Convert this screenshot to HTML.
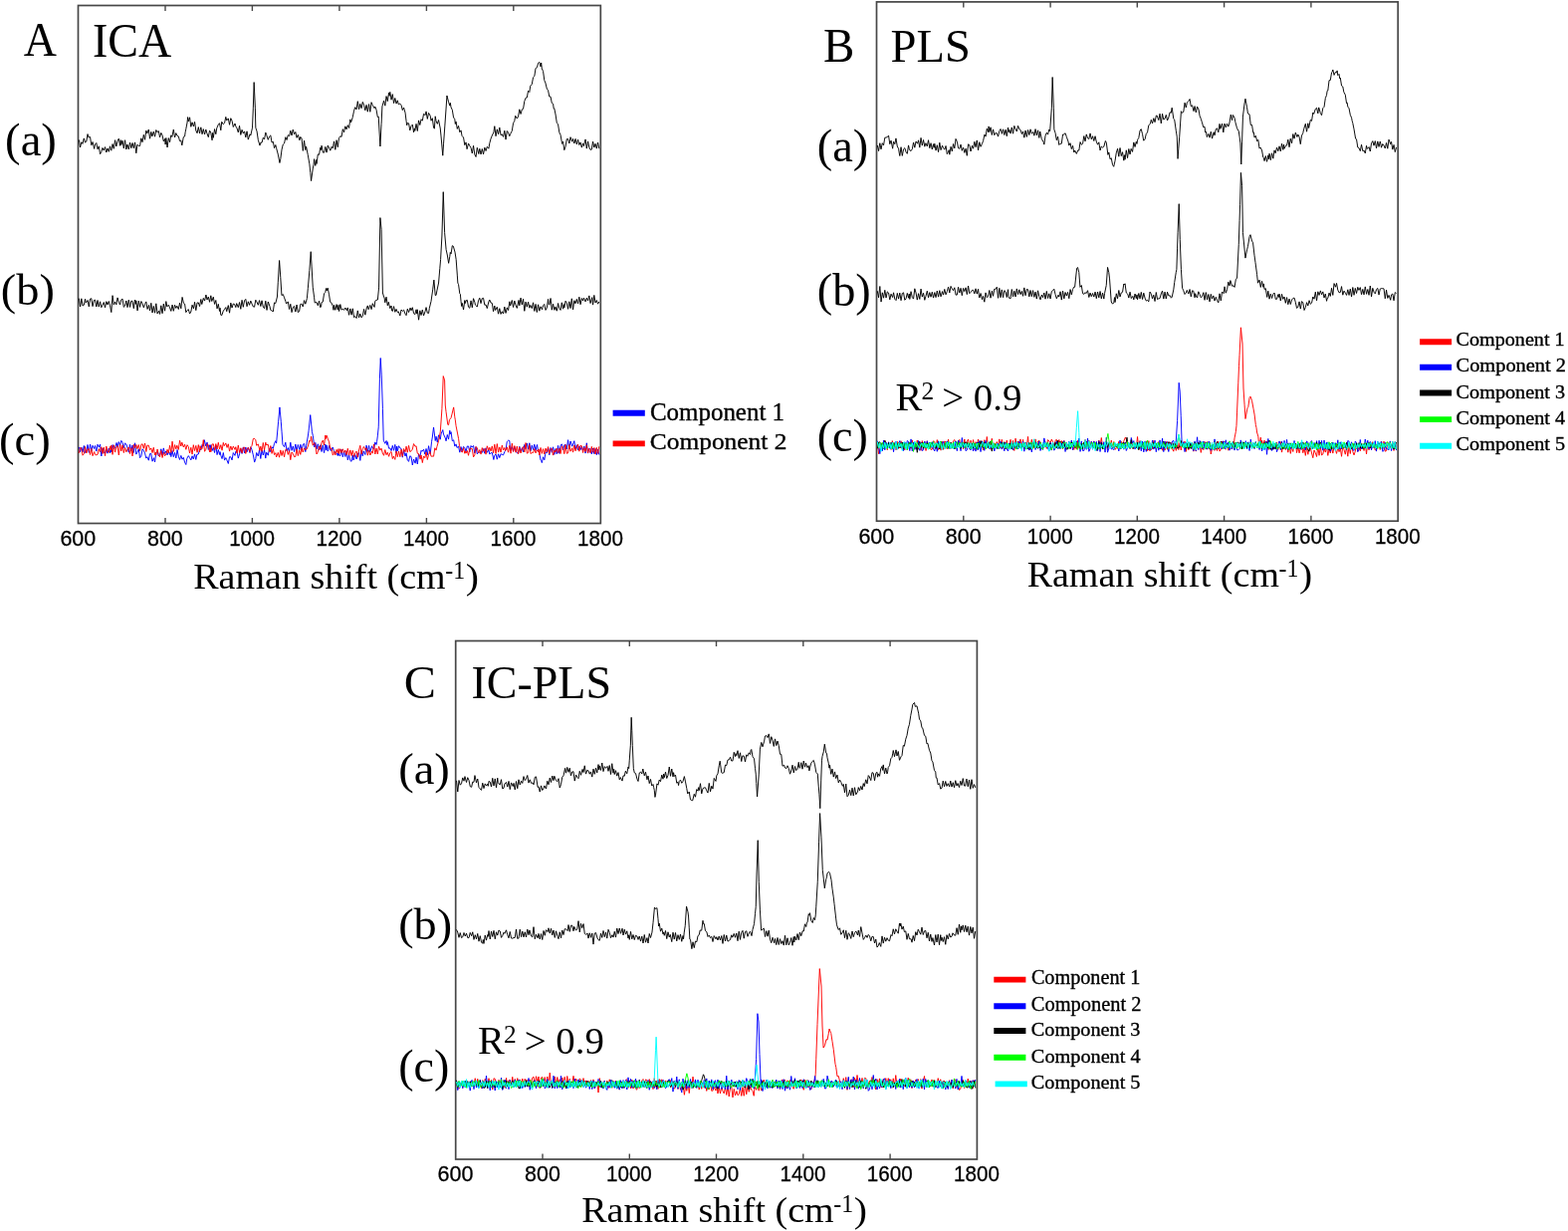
<!DOCTYPE html>
<html><head><meta charset="utf-8"><title>Raman spectra: ICA, PLS and IC-PLS</title>
<style>
html,body{margin:0;padding:0;background:#fff;}
body{width:1575px;height:1236px;overflow:hidden;}
svg{display:block;}
text{fill:#000;}
</style></head>
<body>
<svg width="1575" height="1236" viewBox="0 0 1575 1236">
<rect width="1575" height="1236" fill="#fff"/>
<rect x="78.5" y="5.5" width="524.8" height="520.0" fill="none" stroke="#474747" stroke-width="1.7"/>
<line x1="166.0" y1="525.5" x2="166.0" y2="520.0" stroke="#474747" stroke-width="1.4"/>
<line x1="166.0" y1="5.5" x2="166.0" y2="11.0" stroke="#474747" stroke-width="1.4"/>
<line x1="253.4" y1="525.5" x2="253.4" y2="520.0" stroke="#474747" stroke-width="1.4"/>
<line x1="253.4" y1="5.5" x2="253.4" y2="11.0" stroke="#474747" stroke-width="1.4"/>
<line x1="340.9" y1="525.5" x2="340.9" y2="520.0" stroke="#474747" stroke-width="1.4"/>
<line x1="340.9" y1="5.5" x2="340.9" y2="11.0" stroke="#474747" stroke-width="1.4"/>
<line x1="428.4" y1="525.5" x2="428.4" y2="520.0" stroke="#474747" stroke-width="1.4"/>
<line x1="428.4" y1="5.5" x2="428.4" y2="11.0" stroke="#474747" stroke-width="1.4"/>
<line x1="515.8" y1="525.5" x2="515.8" y2="520.0" stroke="#474747" stroke-width="1.4"/>
<line x1="515.8" y1="5.5" x2="515.8" y2="11.0" stroke="#474747" stroke-width="1.4"/>
<rect x="880.5" y="1.9" width="523.7" height="521.3" fill="none" stroke="#474747" stroke-width="1.7"/>
<line x1="967.8" y1="523.2" x2="967.8" y2="517.7" stroke="#474747" stroke-width="1.4"/>
<line x1="967.8" y1="1.9" x2="967.8" y2="7.4" stroke="#474747" stroke-width="1.4"/>
<line x1="1055.1" y1="523.2" x2="1055.1" y2="517.7" stroke="#474747" stroke-width="1.4"/>
<line x1="1055.1" y1="1.9" x2="1055.1" y2="7.4" stroke="#474747" stroke-width="1.4"/>
<line x1="1142.3" y1="523.2" x2="1142.3" y2="517.7" stroke="#474747" stroke-width="1.4"/>
<line x1="1142.3" y1="1.9" x2="1142.3" y2="7.4" stroke="#474747" stroke-width="1.4"/>
<line x1="1229.6" y1="523.2" x2="1229.6" y2="517.7" stroke="#474747" stroke-width="1.4"/>
<line x1="1229.6" y1="1.9" x2="1229.6" y2="7.4" stroke="#474747" stroke-width="1.4"/>
<line x1="1316.9" y1="523.2" x2="1316.9" y2="517.7" stroke="#474747" stroke-width="1.4"/>
<line x1="1316.9" y1="1.9" x2="1316.9" y2="7.4" stroke="#474747" stroke-width="1.4"/>
<rect x="457.7" y="643.5" width="523.7" height="520.5" fill="none" stroke="#474747" stroke-width="1.7"/>
<line x1="545.0" y1="1164.0" x2="545.0" y2="1158.5" stroke="#474747" stroke-width="1.4"/>
<line x1="545.0" y1="643.5" x2="545.0" y2="649.0" stroke="#474747" stroke-width="1.4"/>
<line x1="632.3" y1="1164.0" x2="632.3" y2="1158.5" stroke="#474747" stroke-width="1.4"/>
<line x1="632.3" y1="643.5" x2="632.3" y2="649.0" stroke="#474747" stroke-width="1.4"/>
<line x1="719.5" y1="1164.0" x2="719.5" y2="1158.5" stroke="#474747" stroke-width="1.4"/>
<line x1="719.5" y1="643.5" x2="719.5" y2="649.0" stroke="#474747" stroke-width="1.4"/>
<line x1="806.8" y1="1164.0" x2="806.8" y2="1158.5" stroke="#474747" stroke-width="1.4"/>
<line x1="806.8" y1="643.5" x2="806.8" y2="649.0" stroke="#474747" stroke-width="1.4"/>
<line x1="894.1" y1="1164.0" x2="894.1" y2="1158.5" stroke="#474747" stroke-width="1.4"/>
<line x1="894.1" y1="643.5" x2="894.1" y2="649.0" stroke="#474747" stroke-width="1.4"/>
<polyline points="79.30,140.4 80.55,148.0 81.80,142.7 82.99,144.4 84.30,138.9 85.55,143.1 86.80,142.0 88.05,134.6 88.81,137.8 90.55,137.5 91.80,145.8 93.05,142.5 94.63,149.4 95.55,144.9 96.80,143.5 98.05,149.8 99.30,146.8 100.55,154.7 101.80,152.6 102.95,148.5 104.30,151.0 105.55,147.6 106.80,153.0 108.05,148.9 109.30,152.3 110.55,146.8 111.27,150.4 111.80,151.2 113.05,144.6 114.30,149.3 115.55,140.7 116.80,147.0 118.05,141.5 119.30,139.2 120.55,146.3 121.25,140.6 121.80,145.5 123.05,141.2 124.30,148.9 125.55,140.7 126.80,150.0 127.90,145.0 129.30,149.9 130.55,143.1 131.80,148.7 133.05,143.5 134.30,148.7 135.55,142.9 136.80,153.8 137.89,145.3 139.30,146.4 140.55,146.6 141.80,138.8 143.05,142.7 144.30,135.3 145.55,140.3 146.80,131.1 147.87,133.9 149.30,130.0 150.55,139.2 151.80,132.4 152.86,136.9 154.30,132.1 155.55,137.2 156.80,130.5 157.85,132.7 159.30,131.5 160.55,137.8 161.80,133.4 163.05,135.8 164.30,141.8 165.55,139.4 166.17,145.1 166.80,138.5 168.05,148.0 169.30,138.6 170.55,142.7 171.80,135.8 172.82,137.4 174.30,130.0 175.55,138.0 176.80,133.6 177.81,136.0 179.30,136.9 180.55,141.6 181.80,141.0 182.80,145.9 184.30,137.6 185.55,137.0 186.13,132.8 186.80,129.5 188.05,123.0 188.62,117.6 189.30,122.0 190.55,117.8 191.80,127.3 193.05,122.8 194.44,127.0 195.55,122.4 196.80,131.0 198.05,133.7 199.30,127.6 200.55,134.0 201.10,130.8 201.80,127.8 203.05,134.7 204.30,129.6 205.55,135.0 206.80,130.0 207.75,133.4 209.30,137.7 210.55,131.1 211.80,133.1 213.05,140.8 213.57,133.4 214.30,138.3 215.55,129.6 216.80,134.7 217.73,128.8 219.30,125.1 220.55,123.7 221.80,130.8 222.72,122.3 224.30,124.8 225.55,123.5 226.80,117.4 227.71,121.0 229.30,118.9 230.55,125.3 231.80,118.7 233.05,121.3 234.30,127.5 236.03,124.0 236.80,126.8 238.05,128.9 239.30,132.9 240.55,126.3 241.80,135.4 243.05,130.3 244.35,133.9 245.55,131.9 246.80,137.9 248.05,131.8 249.30,140.1 251.00,134.8 251.80,136.0 253.50,128.2 254.33,108.2 255.16,82.6 256.33,108.2 256.83,128.2 258.05,131.9 259.30,140.4 260.98,146.1 261.80,143.2 263.05,143.2 264.30,138.3 265.55,139.8 266.80,133.0 267.64,135.3 269.30,140.3 270.55,137.1 271.80,135.9 273.05,143.1 274.29,142.2 275.55,148.7 276.80,145.5 277.62,148.7 279.30,155.1 280.95,163.5 281.80,159.6 283.05,150.1 284.27,145.1 285.55,144.0 286.80,137.7 288.05,140.5 289.26,135.7 290.55,136.7 291.80,131.2 293.05,136.0 294.25,130.1 295.55,134.8 296.80,132.5 298.05,138.3 299.30,135.4 300.91,140.8 301.80,137.4 303.05,139.0 304.30,151.4 305.55,141.2 306.80,150.6 307.56,147.2 309.30,155.7 310.89,164.8 311.80,173.4 312.55,181.6 314.30,169.1 315.05,165.2 315.55,159.7 316.80,166.4 317.54,160.6 318.05,164.5 319.30,154.9 320.55,155.3 321.80,148.2 322.53,150.5 323.05,146.2 324.30,153.1 325.55,153.2 326.80,147.4 328.05,153.1 329.30,146.0 330.85,149.1 331.80,151.2 333.05,147.3 334.30,148.9 335.55,141.9 336.80,150.3 338.05,140.7 339.30,147.7 340.00,142.3 340.55,138.4 341.80,136.7 343.05,137.4 344.30,129.7 345.03,131.5 345.55,132.8 346.80,126.8 348.05,129.9 349.30,125.7 350.55,128.5 351.80,119.9 352.57,122.9 354.30,117.6 355.55,111.2 356.76,107.7 358.05,109.9 359.30,101.7 360.55,109.7 361.79,104.3 363.05,108.7 364.30,102.4 365.55,105.4 366.82,110.8 368.05,105.4 369.30,112.2 370.55,104.6 371.80,112.3 373.05,102.7 374.30,105.7 376.04,108.6 376.80,107.1 378.05,110.3 379.30,117.5 380.23,117.1 381.90,147.0 383.05,124.6 383.92,106.9 385.55,101.2 386.80,106.2 388.05,96.6 389.30,101.7 390.55,93.2 391.12,96.3 391.80,92.4 393.05,100.2 394.30,94.6 395.55,103.6 396.80,98.5 398.05,104.1 399.30,100.8 400.34,104.8 401.80,104.2 403.05,105.4 404.30,110.6 405.55,108.0 407.05,113.2 408.05,121.4 408.72,125.8 409.30,123.6 410.55,123.8 411.80,130.9 413.05,126.5 414.30,125.1 415.55,132.8 416.27,128.9 416.80,131.4 418.05,124.4 419.30,131.5 420.55,120.9 421.80,125.5 423.05,119.8 424.30,121.2 425.55,114.4 427.16,115.6 428.05,111.9 429.30,119.4 430.55,113.4 432.19,116.2 433.05,121.2 434.30,118.7 435.55,128.0 436.38,129.2 437.22,116.8 438.05,121.5 439.30,124.4 440.55,120.5 442.25,129.0 443.05,136.9 444.76,156.2 445.55,144.2 446.80,126.9 448.05,109.1 448.95,96.0 450.55,102.3 451.80,106.1 452.30,103.3 453.05,107.8 454.30,110.3 455.55,117.9 456.80,119.7 457.33,124.5 458.05,122.1 459.30,129.4 460.55,126.4 461.80,132.7 463.05,130.9 464.04,136.4 465.55,138.0 466.80,145.7 468.05,142.9 469.07,149.7 470.55,144.0 471.80,146.5 473.05,148.5 474.30,154.0 475.55,146.3 476.80,155.1 478.05,157.5 479.30,148.3 480.80,154.5 481.80,149.3 483.05,155.0 484.30,149.5 485.55,154.9 486.80,148.1 488.05,151.5 489.30,147.3 490.86,149.2 491.80,143.8 493.05,139.2 494.30,136.1 495.89,132.9 496.80,126.7 498.05,136.7 499.30,129.8 500.55,134.7 501.80,128.0 503.05,135.7 504.27,134.8 505.55,137.4 506.80,131.2 508.05,140.1 509.30,131.5 510.55,133.2 511.80,136.7 512.65,134.6 514.30,131.4 515.55,123.6 516.80,121.4 517.68,116.3 519.30,119.0 520.55,117.0 521.80,109.8 523.05,114.5 524.38,109.8 525.55,109.3 526.80,101.7 528.05,98.3 529.30,98.0 530.55,91.2 531.80,92.5 532.76,86.2 534.30,84.5 535.55,77.7 536.80,76.5 538.05,68.5 539.47,67.6 540.55,63.4 541.80,62.4 543.05,66.9 543.66,63.0 544.30,68.9 545.55,71.5 546.80,80.7 547.85,83.0 549.30,89.0 550.55,90.7 551.80,97.0 553.05,97.1 554.30,103.4 555.55,104.2 556.23,109.1 556.80,108.9 558.05,115.0 559.30,123.3 560.55,124.9 561.80,132.9 563.05,135.5 564.61,144.4 565.55,142.1 566.80,150.7 568.05,147.1 569.30,139.6 570.55,139.5 571.80,144.0 573.05,137.7 574.67,142.2 575.55,139.4 576.80,144.0 578.05,139.4 579.30,144.9 580.55,140.2 581.80,145.5 583.05,142.9 584.30,148.1 585.55,143.9 586.40,146.6 588.05,139.9 589.30,149.1 590.55,141.9 591.80,148.0 593.05,150.4 594.30,150.1 595.55,142.1 596.80,148.1 598.05,144.3 599.30,149.1 600.55,143.0 601.80,149.2" fill="none" stroke="#000" stroke-width="0.95" stroke-linejoin="miter" stroke-miterlimit="2"/>
<polyline points="79.30,299.6 80.55,308.0 81.80,299.8 83.05,307.0 84.30,306.3 85.55,300.3 86.32,304.1 88.05,301.5 89.30,307.9 90.55,300.1 91.80,299.7 93.05,307.6 94.30,301.6 95.55,301.1 96.80,308.0 98.05,301.5 99.30,308.1 100.55,302.8 101.80,308.7 102.95,306.4 104.30,303.5 105.55,308.8 106.80,302.7 108.05,306.0 109.30,302.5 110.55,306.8 111.80,313.6 113.05,296.7 114.30,306.1 115.55,303.1 116.80,305.9 118.05,298.9 119.59,303.8 120.55,306.0 121.80,300.9 123.05,300.1 124.30,308.3 125.55,307.1 126.80,302.0 128.05,308.6 129.30,301.2 130.55,308.4 131.80,302.2 133.05,302.4 134.30,309.7 135.55,301.0 136.22,305.4 136.80,301.8 138.05,311.9 139.30,302.1 140.55,308.4 141.80,302.5 143.05,304.7 144.30,308.8 145.55,305.5 146.80,302.9 148.05,310.4 149.53,306.3 150.55,311.9 151.80,304.3 153.05,314.0 154.30,307.4 155.55,314.2 156.80,304.8 158.05,314.9 159.51,312.2 160.55,315.4 161.80,306.8 163.05,314.7 164.30,305.1 165.55,312.2 166.80,302.6 167.83,307.9 169.30,306.2 170.55,308.9 171.80,312.4 173.05,306.1 174.30,312.3 175.55,306.2 176.80,309.4 177.81,307.2 179.30,310.5 180.55,304.2 181.80,309.8 183.05,298.4 184.46,304.4 185.55,305.1 186.80,313.6 187.79,311.9 189.30,310.6 190.55,315.0 191.80,313.1 193.05,306.2 194.44,309.9 195.55,303.3 196.80,311.6 198.05,304.0 199.30,303.9 200.55,307.6 201.80,300.5 202.76,305.5 204.30,299.4 205.55,302.1 206.92,296.0 208.05,301.0 209.30,298.0 210.55,303.3 211.80,296.8 212.74,302.5 214.30,298.2 215.55,305.4 216.80,301.5 218.05,309.9 219.30,305.3 220.55,312.5 221.06,309.2 221.80,316.3 222.72,316.7 224.30,312.2 225.55,310.5 226.80,308.6 227.71,312.7 229.30,306.6 230.55,314.2 231.80,304.1 233.05,309.1 234.30,305.0 235.55,305.4 236.80,308.6 237.70,304.6 239.30,308.7 240.55,303.5 241.80,310.3 243.05,301.3 244.30,308.3 245.55,301.8 246.80,300.4 248.05,307.7 249.30,302.8 250.55,306.3 251.80,302.1 253.05,305.1 254.30,307.9 255.55,308.2 256.80,301.2 257.66,302.6 259.30,306.3 260.55,301.6 261.80,307.5 263.05,301.8 264.30,308.2 265.55,309.7 266.80,302.2 268.05,311.4 269.30,303.0 270.97,307.5 271.80,311.3 273.46,312.1 274.30,313.0 275.55,303.9 276.79,304.6 278.45,298.0 279.30,283.2 280.61,261.5 281.80,278.7 282.94,296.6 284.30,295.5 285.55,298.8 286.80,302.3 287.60,305.0 289.30,302.9 290.55,310.5 291.80,305.3 293.05,313.6 294.25,308.6 295.55,307.4 296.80,313.1 298.05,306.0 299.30,313.6 300.55,312.8 301.80,305.4 303.05,305.2 304.23,307.9 305.55,301.6 306.80,305.2 308.39,299.6 309.30,289.7 310.89,271.4 312.22,252.7 313.05,267.1 314.22,288.2 315.55,298.2 316.21,304.1 316.80,303.7 318.05,303.6 319.30,306.8 320.55,302.2 321.80,308.7 322.53,307.9 323.05,303.7 324.30,303.0 325.55,294.8 326.80,293.5 327.52,289.5 328.05,292.0 329.19,289.1 330.55,295.8 331.68,303.3 333.05,304.2 334.30,307.3 335.01,311.3 335.55,306.3 336.80,311.3 338.05,305.6 339.30,311.1 340.00,306.3 340.55,312.5 341.80,305.6 343.05,311.1 344.30,310.3 345.55,311.3 346.80,309.0 348.38,311.7 349.30,308.9 350.55,316.3 351.80,309.9 353.05,316.2 354.30,309.8 355.55,318.7 356.76,317.7 358.05,319.5 359.30,311.9 360.55,318.9 361.79,315.1 363.05,318.9 364.30,317.2 365.55,310.4 366.80,316.2 368.05,310.0 369.30,306.9 370.17,310.7 371.80,306.4 373.05,310.6 374.30,304.7 376.04,308.4 376.80,302.3 378.05,301.3 379.39,301.0 380.56,288.9 381.90,218.6 383.08,230.3 384.42,294.0 385.55,298.0 386.10,299.0 386.80,303.8 388.05,298.2 389.30,306.8 390.29,303.3 391.80,309.6 393.05,307.0 393.64,312.0 394.30,312.6 395.55,307.6 396.80,313.3 398.05,310.4 399.30,313.6 400.34,312.9 401.80,317.0 403.05,311.0 404.30,312.4 405.55,311.2 407.05,315.2 408.05,316.7 409.30,310.2 410.55,313.6 412.08,309.1 413.05,311.8 414.30,308.7 415.55,314.6 416.80,315.7 418.05,310.8 418.78,315.1 419.30,310.8 420.55,321.2 421.80,311.8 423.05,316.5 424.30,311.0 425.55,316.9 427.16,312.3 428.05,308.6 429.30,314.2 430.55,314.5 431.35,309.3 433.03,302.5 434.70,290.8 435.88,281.1 437.22,296.5 438.05,296.4 438.90,291.9 440.57,284.0 441.80,269.5 442.58,260.5 443.92,237.0 445.26,192.7 446.61,233.6 448.11,250.6 449.30,256.0 450.63,264.3 451.80,257.4 452.30,253.4 453.05,254.9 454.30,246.7 455.32,247.2 457.00,253.1 458.17,260.6 459.30,276.1 459.85,284.1 460.55,285.6 461.80,294.8 462.36,295.4 463.05,302.6 463.70,307.5 464.30,304.4 465.55,311.0 466.80,301.5 467.39,304.5 468.05,301.9 469.30,301.3 470.55,308.3 471.80,309.3 473.05,301.9 474.30,308.8 475.55,299.7 476.80,303.2 477.45,306.1 478.05,306.6 479.30,308.1 480.55,301.8 481.80,299.2 483.05,304.6 484.15,299.8 485.55,299.3 486.80,306.2 488.05,306.0 489.30,309.6 490.86,303.0 491.80,301.0 493.05,304.0 494.30,304.4 495.55,312.7 496.80,307.0 497.56,311.5 499.30,308.3 500.55,315.2 501.80,309.7 503.05,315.4 504.27,312.8 505.55,315.0 506.80,308.1 508.05,314.4 509.30,308.9 510.55,311.5 511.80,302.8 512.65,307.0 514.30,301.5 515.55,308.5 516.80,302.0 518.05,306.5 519.30,309.4 521.03,301.4 521.80,306.8 523.05,299.1 524.30,305.9 525.55,300.3 526.80,312.3 528.05,303.1 529.30,308.2 530.55,303.2 531.80,309.2 532.76,306.4 534.30,309.6 535.55,303.8 536.80,312.4 538.05,305.4 539.30,313.5 540.55,305.8 541.80,312.2 543.05,307.8 544.50,310.8 545.55,306.7 546.80,305.5 548.05,311.4 549.30,309.0 550.55,300.4 551.20,305.4 551.80,306.2 553.05,299.5 554.30,311.2 555.55,305.2 556.80,311.3 557.90,308.1 559.30,312.2 560.55,304.5 561.80,309.4 563.05,311.4 564.30,303.8 565.55,310.2 566.29,305.6 566.80,309.1 568.05,302.2 569.30,304.1 570.55,310.3 571.80,302.8 573.05,309.5 574.30,299.8 575.55,310.9 576.80,301.7 578.02,304.8 579.30,300.4 580.55,304.9 581.80,298.2 583.05,305.7 584.30,299.5 585.55,302.0 586.40,299.1 588.05,302.9 589.30,299.2 590.55,302.0 591.80,296.9 593.05,304.5 594.78,298.6 595.55,306.1 596.80,296.4 598.05,304.0 599.30,301.5 600.55,305.2 601.80,303.0" fill="none" stroke="#000" stroke-width="0.95" stroke-linejoin="miter" stroke-miterlimit="2"/>
<polyline points="79.30,448.9 80.55,453.7 81.80,449.1 83.05,453.8 84.30,447.5 85.55,454.5 86.80,453.5 88.05,446.5 89.30,454.4 90.55,446.1 91.80,453.1 93.05,447.3 94.63,450.5 95.55,447.5 96.80,453.1 98.05,446.2 99.30,448.9 100.55,446.2 101.80,458.0 103.05,449.9 104.30,454.6 105.55,455.0 106.80,450.9 108.05,455.2 109.30,450.0 110.55,454.9 111.27,451.3 111.80,454.0 113.05,446.6 114.30,450.7 115.55,449.6 117.09,444.5 118.05,449.2 119.30,443.6 120.55,447.4 121.80,442.4 123.05,444.2 124.30,449.6 125.55,444.9 126.80,446.0 127.90,449.0 129.30,454.2 130.55,446.3 131.80,452.9 133.05,447.0 134.30,454.5 135.55,444.8 136.80,456.1 137.89,454.3 139.30,450.9 140.55,459.7 141.80,458.4 143.05,450.8 144.30,452.3 145.55,455.1 146.80,460.1 147.87,458.7 149.30,462.2 150.55,455.6 151.80,455.3 153.05,463.2 154.52,459.7 155.55,463.9 156.80,454.3 158.05,452.9 159.30,458.0 160.55,456.7 161.17,454.2 161.80,450.8 163.05,456.9 164.30,449.9 165.55,455.5 166.80,452.9 168.05,456.9 169.30,453.5 170.55,456.6 171.16,453.8 171.80,458.6 173.05,452.5 174.30,458.7 175.55,454.4 176.80,459.9 178.05,451.5 179.47,458.9 180.55,461.5 181.80,457.4 183.05,461.2 184.30,459.3 185.55,464.2 186.80,466.5 187.79,460.4 189.30,457.6 190.55,459.5 191.80,461.9 193.05,457.8 194.30,461.0 195.55,455.9 196.80,461.4 197.77,456.4 199.30,456.0 200.55,451.2 201.80,451.6 203.05,446.5 204.30,448.1 205.26,441.7 206.80,447.9 208.05,444.1 209.30,451.5 210.55,446.8 211.08,451.2 211.80,446.7 213.05,452.6 214.30,449.3 215.55,454.5 216.80,446.9 218.05,456.6 219.30,451.5 220.55,456.5 221.06,453.6 221.80,457.2 223.05,460.6 224.30,454.5 225.55,462.1 226.80,459.6 227.71,461.5 229.30,465.5 230.55,458.7 231.80,458.8 233.05,461.9 234.30,454.6 236.03,457.4 236.80,453.2 238.05,453.3 239.30,460.1 240.55,455.9 241.80,450.5 243.05,455.5 244.35,448.9 245.55,454.9 246.80,449.0 248.05,453.8 249.30,449.4 251.00,454.6 251.80,448.8 253.05,451.8 254.33,456.9 255.66,464.1 256.80,460.6 257.66,454.5 259.30,458.0 260.55,451.7 261.80,460.5 263.05,452.0 264.30,457.0 265.55,451.7 266.80,460.1 267.64,454.1 269.30,457.2 270.55,450.3 271.80,453.7 273.05,448.8 274.29,450.4 275.55,445.3 276.80,442.7 277.62,445.1 279.62,423.2 280.95,408.9 282.28,423.3 283.05,433.8 283.94,446.3 285.55,448.7 286.80,444.2 288.05,452.9 289.26,449.6 290.55,453.6 291.80,444.2 293.05,452.3 294.30,447.9 295.55,453.6 296.80,446.0 298.05,452.8 299.30,446.5 300.91,451.6 301.80,446.3 303.05,452.1 304.30,446.2 305.55,445.4 306.80,453.6 307.56,447.8 309.30,438.0 310.06,432.7 311.72,416.6 313.38,433.3 314.30,437.3 315.88,449.0 316.80,444.4 318.05,450.9 319.30,445.8 320.55,451.7 321.80,446.8 323.05,453.5 324.30,446.9 325.55,454.6 326.80,446.0 327.52,452.1 328.05,447.0 329.30,453.1 330.55,447.4 331.80,452.2 333.05,452.0 334.18,449.0 335.55,452.8 336.80,454.7 338.05,454.9 339.30,457.6 340.00,453.1 340.55,457.2 341.80,457.7 343.05,451.3 344.30,458.8 345.55,453.1 346.80,458.5 348.05,452.9 349.30,461.9 350.55,456.8 351.80,462.4 353.05,463.3 354.30,457.0 355.09,462.0 356.80,456.6 358.05,461.0 359.30,456.2 360.55,454.4 361.80,462.4 363.05,452.6 364.30,457.9 365.14,452.9 366.80,456.5 368.05,447.2 369.30,453.5 370.55,447.4 371.80,453.8 373.52,447.8 374.30,450.0 375.55,450.8 376.80,443.9 378.05,446.5 378.55,443.6 379.30,437.9 380.23,428.8 381.40,380.2 382.24,359.5 383.25,376.9 384.42,410.4 385.26,442.2 386.80,445.3 388.05,442.5 388.61,446.6 389.30,443.7 390.55,450.2 391.96,450.0 393.05,452.6 394.30,447.4 395.55,452.3 396.80,446.4 398.05,455.0 398.67,448.0 399.30,453.0 400.55,447.7 401.80,449.8 403.05,450.5 404.30,459.2 405.55,452.2 407.05,458.0 408.05,454.8 409.30,462.1 410.55,463.3 411.80,457.8 413.05,458.5 414.30,467.0 415.55,461.0 417.10,465.2 418.05,459.2 419.30,466.0 420.55,456.0 421.80,458.9 423.05,452.3 423.81,453.3 425.55,451.2 426.80,456.1 428.05,450.5 429.30,456.8 430.55,447.7 432.19,456.1 433.53,443.7 434.30,439.0 435.54,429.0 437.22,442.5 438.05,438.2 439.30,444.1 440.55,436.8 442.25,441.2 443.05,435.8 444.76,431.6 445.55,436.1 447.28,439.8 448.05,442.8 449.30,436.5 450.55,441.1 451.80,432.2 452.30,436.0 453.05,433.7 454.30,442.7 455.66,441.8 456.80,448.1 458.05,445.9 459.01,449.5 460.55,448.1 461.80,454.2 463.05,448.6 464.04,453.2 465.55,448.4 466.80,449.5 468.05,453.5 469.30,448.0 470.55,448.0 471.80,453.9 473.05,447.5 474.10,449.1 475.55,447.5 476.80,455.0 478.05,448.8 479.30,455.9 480.55,454.0 481.80,454.3 483.05,453.5 484.30,454.5 485.55,450.6 486.80,455.2 488.05,449.8 489.30,454.4 490.86,451.7 491.80,456.0 493.05,454.8 494.30,454.5 495.89,461.5 496.80,457.2 498.05,456.0 499.30,461.2 500.55,455.8 501.80,459.6 503.05,455.7 504.27,456.4 505.55,456.9 506.80,453.7 508.05,451.6 509.30,443.4 510.55,442.2 511.81,442.5 512.65,452.5 514.30,448.5 515.55,453.3 516.80,448.4 518.05,452.8 519.30,454.8 520.55,455.2 521.80,448.3 523.05,453.5 524.38,449.7 525.55,453.9 526.80,446.5 528.05,450.7 529.30,445.0 530.55,451.2 531.80,444.8 533.05,452.6 534.30,447.1 535.55,451.5 536.80,446.2 538.05,452.3 539.47,446.5 540.55,452.7 541.80,455.1 543.05,462.0 543.66,462.5 544.30,464.6 545.55,458.8 546.80,461.8 548.05,454.0 549.52,454.5 550.55,450.1 551.80,456.8 553.05,449.5 554.30,454.3 555.55,448.8 556.80,456.4 558.05,450.5 559.30,455.9 560.55,447.4 561.80,455.4 563.05,447.1 564.30,445.9 565.55,452.0 566.80,446.9 568.05,446.4 569.30,451.0 570.55,441.7 571.80,450.9 573.05,443.0 574.67,448.2 575.55,446.0 576.80,442.7 578.05,451.1 579.30,446.7 580.55,451.8 581.80,447.9 583.05,451.7 584.30,448.1 585.55,452.2 586.80,448.0 588.05,455.1 589.30,444.8 590.55,455.1 591.43,451.4 593.05,450.5 594.30,455.9 595.55,450.0 596.80,455.6 598.05,450.4 599.30,456.7 600.55,451.2 601.80,456.6" fill="none" stroke="#0000ff" stroke-width="0.95" stroke-linejoin="miter" stroke-miterlimit="2"/>
<polyline points="79.30,454.9 80.55,449.4 81.80,450.1 83.05,457.2 84.30,455.8 85.55,448.5 86.80,455.0 88.05,451.0 89.30,450.7 90.55,456.5 91.80,450.4 93.05,457.7 94.63,453.6 95.55,456.5 96.80,456.9 98.05,456.2 99.30,450.7 100.55,453.7 101.80,448.8 103.05,455.5 104.30,449.1 105.55,457.7 106.80,448.1 108.05,453.6 109.30,454.2 110.55,448.4 111.27,451.7 111.80,447.1 113.05,456.4 114.30,446.8 115.55,454.1 116.80,448.8 118.05,447.6 119.30,456.9 120.55,446.0 121.80,452.9 123.05,446.9 124.30,454.6 125.55,449.5 126.80,453.8 127.90,451.3 129.30,448.9 130.55,455.6 131.80,449.6 133.05,457.9 134.30,446.4 135.55,449.7 136.80,446.5 137.89,450.7 139.30,446.6 140.55,452.7 141.80,446.4 143.05,445.8 144.30,450.3 145.55,445.0 146.80,453.5 147.87,447.2 149.30,447.2 150.55,451.6 151.80,450.0 153.05,454.6 154.30,449.3 155.55,456.8 156.18,454.3 156.80,456.9 158.05,451.0 159.30,456.5 160.55,458.9 161.80,452.4 163.05,459.5 164.50,454.2 165.55,457.8 166.80,456.1 168.05,451.3 169.30,455.0 170.55,447.3 171.80,454.5 173.05,443.2 174.30,453.4 175.55,446.6 176.80,450.8 177.81,447.2 179.30,451.4 180.55,442.3 181.80,448.0 182.80,444.2 184.30,449.0 185.55,446.1 186.80,451.3 188.05,446.7 189.30,448.5 190.55,455.0 191.12,452.4 191.80,449.3 193.05,456.1 194.30,446.7 195.55,452.6 196.80,447.4 198.05,454.3 199.30,446.6 200.55,453.8 201.10,447.7 201.80,451.1 203.05,450.7 204.30,441.7 205.55,453.3 206.80,451.3 208.05,445.8 209.30,446.6 210.55,453.8 211.08,449.8 211.80,453.9 213.05,446.0 214.30,445.8 215.55,452.0 216.80,445.6 218.05,451.0 219.30,444.3 220.55,451.0 221.80,446.7 223.05,452.2 224.30,444.4 225.22,447.7 226.80,444.9 228.05,449.4 229.30,445.8 230.55,453.1 231.80,448.0 233.05,451.8 234.30,448.1 236.03,451.4 236.80,448.7 238.05,455.1 239.30,447.1 240.55,454.5 241.80,449.8 243.05,454.9 244.30,449.5 245.55,449.1 246.80,455.5 248.05,450.9 249.30,449.3 251.00,453.6 251.80,448.9 253.05,447.4 254.30,440.7 255.16,440.0 256.80,441.7 257.66,447.3 259.30,446.0 260.98,452.3 261.80,448.1 263.05,453.3 264.30,444.5 265.55,451.8 266.80,444.2 267.64,446.9 269.30,446.3 270.55,453.4 271.80,447.6 273.05,455.4 274.30,450.8 275.55,456.6 276.80,454.7 277.62,459.0 279.30,454.4 280.55,459.2 281.80,451.9 283.05,457.5 284.27,452.5 285.55,458.8 286.80,451.5 288.05,451.3 289.30,456.4 290.55,452.7 291.80,461.7 293.05,454.0 294.25,455.5 295.55,458.7 296.80,458.5 298.05,451.0 299.30,457.6 300.55,452.0 301.80,456.4 303.05,449.6 304.23,454.0 305.55,449.9 306.80,451.6 308.05,451.1 309.30,448.1 310.89,442.2 311.80,443.3 312.55,438.2 314.22,447.2 315.55,444.6 316.80,447.4 318.05,456.0 319.21,453.9 320.55,448.1 321.80,451.4 323.05,444.4 324.30,442.1 325.55,447.0 326.80,437.0 327.52,440.5 328.05,437.2 329.19,440.2 330.55,443.8 331.68,450.4 333.05,450.2 334.30,457.1 335.01,456.1 335.55,452.9 336.80,456.9 338.05,451.4 339.30,454.8 340.00,450.6 340.55,455.5 341.80,450.7 343.05,454.7 344.30,450.8 345.55,454.5 346.80,452.0 348.05,456.6 349.30,450.3 350.55,457.1 351.80,451.9 353.05,457.6 354.30,452.3 355.55,458.5 356.76,454.9 358.05,453.1 359.30,459.2 360.55,452.0 361.80,447.3 363.05,456.1 364.30,450.5 365.55,448.5 366.80,451.6 368.05,449.8 369.30,457.2 370.55,452.3 371.80,457.0 373.52,453.2 374.30,455.2 375.55,445.9 376.80,456.0 378.05,450.1 379.30,455.9 380.55,448.3 381.90,452.1 383.05,450.2 384.30,455.1 385.55,457.3 386.80,451.6 388.05,456.7 389.30,454.2 390.55,458.3 391.80,454.6 393.05,453.5 394.30,460.6 395.31,458.1 396.80,461.4 398.05,453.1 399.30,458.7 400.55,453.0 401.80,458.7 403.05,451.3 404.30,458.3 405.55,450.5 407.05,453.7 408.05,448.2 409.30,454.2 410.55,447.4 411.80,453.6 413.05,452.8 414.30,451.1 415.55,445.6 417.10,448.3 418.05,447.8 419.30,455.3 420.55,455.5 422.13,461.1 423.05,457.0 424.30,464.6 425.55,458.0 426.80,459.7 428.05,454.1 429.30,461.5 430.51,456.6 431.80,453.2 433.05,458.3 433.87,458.0 435.55,458.2 436.80,449.8 438.05,452.1 438.90,448.5 440.55,442.7 442.25,433.8 443.05,423.0 443.92,410.5 445.26,377.6 446.61,381.9 447.28,407.0 448.05,413.5 449.79,426.4 450.55,426.7 451.47,421.5 453.05,419.5 453.98,415.9 455.66,408.9 456.80,418.8 457.33,421.8 458.05,427.6 459.34,434.0 460.55,440.3 461.52,447.6 463.05,452.8 464.30,454.2 465.55,449.7 466.80,455.3 467.39,452.9 468.05,455.1 469.30,452.5 470.55,457.3 471.80,450.3 473.05,450.6 474.30,450.6 475.55,458.9 476.80,456.8 478.05,448.4 479.30,449.8 480.55,454.8 481.80,451.6 483.05,456.1 484.30,449.6 485.55,453.2 486.80,450.4 488.05,456.2 489.30,447.8 490.86,452.1 491.80,449.2 493.05,452.9 494.30,447.9 495.55,454.7 496.80,446.2 498.05,455.5 499.30,445.6 500.55,454.1 501.80,448.9 503.05,454.1 504.30,447.1 505.55,452.0 506.80,449.5 507.62,452.6 509.30,449.0 510.55,454.2 511.80,447.4 513.05,455.2 514.30,445.2 515.55,453.4 516.80,447.6 518.05,454.2 519.30,448.1 520.55,455.7 521.80,448.9 523.05,455.0 524.38,450.6 525.55,448.5 526.80,454.0 528.05,444.6 529.30,455.2 530.55,454.7 531.80,446.7 533.05,455.6 534.30,454.4 535.55,454.6 536.80,450.6 538.05,454.9 539.30,451.9 540.55,453.6 541.14,451.1 541.80,457.0 543.05,449.5 544.30,455.4 545.55,450.7 546.80,456.0 548.05,450.1 549.30,454.1 550.55,448.6 551.80,455.5 553.05,450.8 554.30,450.4 555.55,457.1 556.80,452.1 557.90,454.0 559.30,450.1 560.55,454.6 561.80,450.2 563.05,455.5 564.30,447.9 565.55,449.6 566.80,455.7 568.05,446.5 569.30,455.3 570.55,454.9 571.80,446.6 573.05,453.2 574.67,449.8 575.55,454.1 576.80,447.1 578.05,452.8 579.30,449.2 580.55,446.2 581.80,453.2 583.05,447.3 584.30,447.7 585.55,454.5 586.80,449.5 588.05,453.6 589.30,446.8 590.55,454.9 591.43,450.3 593.05,454.8 594.30,448.4 595.55,454.2 596.80,449.5 598.05,456.0 599.30,449.4 600.55,455.4 601.80,448.3" fill="none" stroke="#ff0000" stroke-width="0.95" stroke-linejoin="miter" stroke-miterlimit="2"/>
<polyline points="881.30,145.9 882.55,151.6 883.80,143.7 884.99,149.9 886.30,143.7 887.55,145.8 888.80,138.2 890.05,138.1 891.64,137.3 892.55,136.1 893.80,144.7 895.05,141.1 896.63,149.2 897.55,142.2 898.80,144.7 899.96,138.9 901.30,147.0 902.55,149.2 903.29,153.9 903.80,156.5 905.05,147.7 906.30,156.4 907.55,149.8 908.80,148.6 910.05,152.6 911.30,154.3 912.55,145.9 913.27,149.3 913.80,150.8 915.05,151.6 916.30,149.7 917.55,143.0 918.80,148.2 920.05,142.0 921.59,144.2 922.55,140.8 923.80,148.1 925.05,138.4 926.30,146.1 927.55,140.5 928.80,147.2 929.90,143.7 931.30,146.9 932.55,140.7 933.80,148.7 935.05,143.7 936.30,150.0 937.55,144.7 938.22,148.3 938.80,144.2 940.05,151.1 941.30,145.7 942.55,152.6 943.80,143.2 945.05,150.6 946.54,146.2 947.55,148.5 948.80,150.2 950.05,146.5 951.30,154.7 952.55,152.3 953.19,150.6 953.80,155.2 955.05,147.3 956.30,151.9 957.55,144.5 958.80,148.9 960.05,139.4 961.51,142.8 962.55,148.7 963.80,149.3 965.05,145.1 966.30,151.3 967.55,148.2 968.17,150.3 968.80,153.4 970.05,149.2 971.30,156.3 972.55,144.8 973.80,145.6 975.05,152.0 976.48,146.3 977.55,149.2 978.80,142.3 980.05,147.7 981.30,140.9 982.55,150.8 983.80,142.7 985.05,147.3 986.46,144.3 987.55,141.6 988.96,135.1 990.05,137.1 991.30,129.2 992.55,132.6 993.12,126.9 993.80,132.6 995.05,127.8 996.30,135.5 997.55,129.9 998.80,135.7 999.77,133.7 1001.30,133.7 1002.55,137.1 1003.80,131.6 1005.05,129.5 1006.43,134.3 1007.55,129.8 1008.80,135.5 1010.05,130.2 1011.30,136.7 1012.55,128.0 1013.08,132.8 1013.80,130.2 1015.05,134.1 1016.30,127.9 1017.55,134.2 1018.80,126.4 1019.73,128.8 1021.30,132.0 1022.55,126.3 1023.80,129.6 1025.05,130.4 1026.39,134.5 1027.55,132.0 1028.80,138.2 1030.05,131.0 1031.30,137.4 1032.55,130.5 1033.80,135.5 1035.05,129.8 1036.30,134.1 1038.03,132.6 1038.80,136.2 1040.05,129.6 1041.30,135.8 1042.55,130.8 1043.80,138.4 1044.69,132.0 1046.30,139.6 1048.01,142.2 1048.80,145.1 1050.05,136.2 1051.34,133.2 1052.55,135.1 1053.80,130.0 1054.67,131.6 1056.33,108.2 1057.16,77.5 1058.33,108.2 1058.83,129.9 1060.05,133.5 1061.32,140.7 1062.55,137.1 1063.80,145.5 1064.65,144.5 1066.30,144.2 1067.55,135.0 1068.81,134.9 1070.05,133.7 1071.30,137.4 1072.97,142.0 1073.80,146.1 1075.05,143.7 1076.30,149.6 1077.55,146.3 1078.80,153.0 1079.62,151.0 1081.30,154.4 1082.95,150.6 1083.80,151.1 1085.05,142.6 1086.27,145.3 1087.55,144.3 1088.80,136.6 1090.05,141.9 1091.26,134.9 1092.55,138.8 1093.80,139.5 1095.05,133.9 1096.30,139.8 1097.55,136.7 1098.80,141.5 1100.05,136.7 1101.24,142.1 1102.55,145.2 1103.80,142.8 1105.05,151.0 1106.23,147.0 1107.55,148.1 1108.80,147.2 1110.39,141.5 1111.30,143.2 1112.89,155.4 1113.80,152.9 1115.05,159.8 1116.22,158.7 1117.55,165.5 1118.71,167.3 1120.05,161.4 1121.21,153.8 1122.55,149.3 1123.80,157.2 1124.53,151.2 1125.05,148.5 1126.30,156.6 1127.55,152.7 1128.80,161.2 1129.52,155.7 1130.05,160.2 1131.30,150.8 1132.55,158.6 1133.80,149.5 1135.05,155.0 1136.18,149.4 1137.55,152.4 1138.80,142.9 1140.05,147.5 1141.30,142.3 1142.00,144.4 1142.55,140.4 1143.80,138.5 1145.05,131.1 1146.19,129.6 1147.55,134.6 1148.70,141.2 1150.05,139.8 1151.30,134.4 1152.55,132.9 1153.80,125.7 1155.41,124.3 1156.30,120.3 1157.55,123.9 1158.80,118.7 1160.05,122.7 1161.30,116.1 1162.11,116.0 1163.80,120.6 1165.05,114.2 1166.30,123.9 1167.55,114.3 1168.82,120.1 1170.05,119.2 1171.30,115.4 1172.55,121.0 1173.85,118.0 1175.05,112.8 1176.30,113.3 1177.20,108.2 1178.80,119.3 1179.71,120.1 1181.30,131.3 1182.23,137.1 1183.07,159.4 1183.80,149.2 1184.74,137.2 1186.42,111.7 1187.55,113.4 1188.80,112.2 1190.05,103.2 1191.30,108.0 1192.29,103.2 1193.96,101.3 1195.05,99.5 1196.30,106.8 1197.55,105.8 1198.99,111.6 1200.05,106.6 1201.30,112.9 1202.55,107.1 1204.02,110.0 1205.05,116.2 1206.30,119.3 1207.37,122.7 1208.80,127.8 1210.05,127.3 1210.72,133.0 1211.30,132.1 1212.40,137.6 1213.80,134.4 1215.05,138.2 1216.30,132.2 1217.55,139.1 1219.10,132.7 1220.05,135.9 1221.30,129.7 1222.55,128.8 1223.80,132.8 1225.05,124.4 1225.81,129.4 1227.55,124.1 1228.80,132.9 1230.05,124.1 1231.30,127.9 1232.51,124.2 1233.80,127.1 1235.05,123.0 1236.30,115.1 1237.55,120.7 1238.38,115.4 1240.05,118.4 1240.90,122.7 1242.55,128.8 1244.25,131.8 1245.05,137.2 1245.92,143.9 1246.76,165.0 1247.55,142.9 1248.44,117.1 1250.05,104.0 1250.95,99.2 1252.55,107.7 1253.47,114.0 1255.05,114.9 1256.30,125.5 1257.55,125.4 1258.80,133.4 1259.33,132.9 1260.05,138.0 1261.30,136.3 1262.69,141.8 1263.80,140.4 1265.05,149.1 1266.04,148.0 1267.55,151.0 1268.80,158.0 1269.39,158.6 1270.05,161.6 1271.30,156.6 1272.55,162.3 1273.80,155.9 1274.42,159.8 1275.05,154.2 1276.30,160.7 1277.55,153.8 1278.80,159.2 1280.05,150.9 1281.12,153.8 1282.55,148.2 1283.80,151.7 1285.05,146.8 1286.30,151.9 1287.55,144.3 1288.80,150.4 1289.50,145.1 1290.05,149.3 1291.30,146.5 1292.55,146.0 1293.80,140.2 1295.05,147.7 1296.21,139.2 1297.55,143.8 1298.80,134.6 1300.05,139.2 1301.30,133.1 1302.91,137.5 1303.80,135.0 1305.05,137.4 1306.27,144.7 1307.55,136.1 1308.80,133.5 1309.62,129.7 1311.30,124.3 1312.55,132.2 1313.80,123.8 1314.65,128.5 1316.30,120.4 1317.55,121.4 1318.80,113.0 1319.68,114.4 1321.30,109.4 1322.55,108.3 1323.80,113.9 1324.70,107.9 1326.30,113.5 1327.55,115.7 1328.06,112.8 1328.80,108.6 1330.05,107.3 1331.30,98.6 1332.55,95.4 1333.09,91.3 1333.80,91.0 1335.05,80.7 1336.30,80.5 1337.55,72.8 1338.11,72.3 1338.80,70.0 1340.05,75.4 1341.30,72.5 1342.55,72.9 1343.14,70.9 1343.80,75.7 1345.05,74.4 1345.66,78.8 1346.30,78.1 1347.55,86.1 1348.80,87.0 1349.85,92.5 1351.30,95.2 1352.55,103.7 1353.20,103.1 1353.80,107.1 1355.05,108.8 1356.30,115.3 1357.55,118.2 1358.23,121.6 1358.80,123.6 1360.05,129.8 1361.58,139.0 1362.55,140.0 1363.80,148.0 1364.93,148.5 1366.30,151.6 1367.55,145.2 1368.80,151.6 1370.05,151.0 1371.30,153.9 1372.55,146.3 1373.31,149.5 1375.05,147.6 1376.30,152.0 1377.55,143.8 1378.80,141.6 1380.02,146.2 1381.30,141.6 1382.55,148.9 1383.80,141.9 1385.05,147.4 1386.30,142.0 1387.55,148.2 1388.80,144.5 1390.08,146.1 1391.30,149.0 1392.55,143.4 1393.80,149.2 1395.05,140.1 1396.78,144.8 1397.55,142.4 1398.80,150.1 1400.05,145.4 1401.30,152.6 1402.55,147.9" fill="none" stroke="#000" stroke-width="0.95" stroke-linejoin="miter" stroke-miterlimit="2"/>
<polyline points="881.30,292.2 882.55,298.8 883.80,287.5 885.05,303.1 886.30,293.8 887.55,299.2 888.80,291.3 890.05,299.0 891.30,292.9 892.55,294.0 893.80,300.9 895.05,295.2 896.63,298.6 897.55,293.8 898.80,300.3 900.05,301.6 901.30,294.4 902.55,300.1 903.80,294.1 905.05,301.7 906.30,294.5 907.55,293.8 908.80,301.3 910.05,299.8 911.30,294.4 912.55,299.2 913.27,295.0 913.80,300.4 915.05,292.7 916.30,298.6 917.55,300.1 918.80,289.8 920.05,294.0 921.30,301.1 922.55,294.7 923.80,300.4 925.05,290.1 926.30,298.1 927.55,294.3 928.80,301.3 929.90,297.6 931.30,292.2 932.55,298.8 933.80,293.6 935.05,298.2 936.30,293.2 937.55,299.1 938.80,293.6 940.05,298.6 941.30,292.0 942.55,298.1 943.80,291.7 945.05,297.8 946.54,292.6 947.55,296.1 948.80,290.4 950.05,295.8 951.30,292.7 952.55,288.2 953.19,290.9 953.80,294.0 955.05,287.4 956.30,289.8 957.55,291.7 958.80,288.8 960.05,296.1 961.30,296.1 962.55,288.3 963.17,291.2 963.80,294.0 965.05,289.3 966.30,296.7 967.55,289.4 968.80,292.6 970.05,288.8 971.30,295.6 972.55,287.0 973.80,294.7 975.05,293.4 976.48,291.4 977.55,291.2 978.80,294.9 980.05,289.8 981.30,295.1 982.55,290.3 983.14,295.4 983.80,299.0 985.05,294.5 986.46,300.7 987.55,297.4 988.80,303.2 990.05,293.9 991.30,298.7 992.55,297.4 993.80,291.5 995.05,299.2 996.44,292.1 997.55,297.3 998.80,290.2 1000.05,290.4 1001.30,288.2 1002.55,299.3 1003.80,289.3 1005.05,298.7 1006.30,290.9 1007.55,298.7 1008.80,291.6 1010.05,292.8 1011.30,298.5 1012.55,290.7 1013.08,297.5 1013.80,299.5 1015.05,299.8 1016.30,290.5 1017.55,297.9 1018.80,292.2 1020.05,298.0 1021.30,289.9 1022.55,295.6 1023.80,290.8 1025.05,295.6 1026.39,292.4 1027.55,297.3 1028.80,288.9 1030.05,296.7 1031.30,290.4 1032.55,290.7 1033.80,297.9 1035.05,291.5 1036.30,297.7 1037.55,291.6 1038.80,298.3 1040.05,293.1 1041.30,300.1 1042.55,291.8 1043.80,297.7 1045.05,300.9 1046.35,296.0 1047.55,298.7 1048.80,294.0 1050.05,300.2 1051.30,292.4 1052.55,299.5 1053.80,294.8 1055.05,300.0 1056.30,292.7 1057.55,291.8 1058.80,290.2 1060.05,295.6 1061.30,299.8 1062.98,296.2 1063.80,298.1 1065.05,292.8 1066.30,301.1 1067.55,292.1 1068.80,299.9 1070.05,293.5 1071.30,297.1 1072.55,293.4 1073.80,299.7 1075.05,290.6 1076.29,295.9 1077.55,290.5 1078.80,288.1 1079.62,288.2 1081.62,269.3 1082.55,268.5 1083.78,273.4 1084.94,288.3 1086.30,286.5 1087.55,294.6 1088.80,295.4 1089.60,293.9 1091.30,294.3 1092.55,291.7 1093.80,298.5 1095.05,294.1 1096.25,297.7 1097.55,294.5 1098.80,298.1 1100.05,293.1 1101.30,299.7 1102.55,293.0 1103.80,298.9 1105.05,292.5 1106.30,299.9 1107.55,294.0 1108.80,300.1 1109.56,294.5 1111.23,286.6 1112.56,268.4 1113.80,273.6 1114.55,279.9 1116.22,303.0 1117.55,305.2 1118.80,303.9 1119.54,298.6 1120.05,303.5 1121.30,294.8 1122.55,299.8 1123.80,291.5 1125.05,298.0 1126.20,294.0 1127.55,293.3 1128.80,285.0 1129.52,285.9 1130.05,284.8 1131.30,294.0 1132.85,295.4 1133.80,299.1 1135.05,293.2 1136.30,299.6 1137.84,297.4 1138.80,300.9 1140.05,295.0 1141.30,299.6 1142.00,295.9 1142.55,300.8 1143.80,294.5 1145.05,299.9 1146.30,293.4 1147.55,300.5 1148.80,294.2 1150.05,299.2 1151.30,302.1 1152.55,301.4 1153.80,302.9 1155.05,293.0 1156.30,295.2 1157.55,299.9 1158.76,296.2 1160.05,302.5 1161.30,293.5 1162.55,300.6 1163.80,299.8 1165.05,299.6 1166.30,294.9 1167.55,292.1 1168.80,300.1 1170.05,293.1 1171.30,300.0 1172.55,293.2 1173.80,296.9 1175.52,296.9 1176.30,299.2 1177.20,298.3 1178.80,290.9 1179.71,283.6 1181.30,273.3 1181.89,270.6 1182.55,249.9 1183.07,233.7 1184.24,204.7 1185.25,240.4 1186.42,270.5 1187.59,289.2 1188.80,291.8 1190.05,295.5 1191.30,294.0 1192.29,291.4 1193.80,295.0 1195.05,290.5 1196.30,297.9 1197.55,291.8 1198.80,292.2 1200.05,298.8 1200.67,294.7 1201.30,297.1 1202.55,299.0 1203.80,292.8 1205.05,295.5 1206.30,298.8 1207.55,297.5 1208.80,293.7 1210.05,301.3 1211.30,293.6 1212.55,300.9 1213.80,295.5 1215.05,302.9 1216.30,295.4 1217.43,300.1 1218.80,296.9 1220.05,302.1 1221.30,298.3 1222.46,301.5 1223.80,303.9 1225.05,294.8 1226.30,301.9 1227.55,293.0 1229.16,294.7 1230.05,287.8 1231.30,294.2 1232.55,290.6 1233.80,283.1 1235.05,286.9 1235.87,281.6 1237.55,287.2 1239.22,286.9 1240.05,288.4 1241.30,280.7 1242.57,279.0 1244.25,245.4 1245.05,221.4 1245.59,205.2 1246.43,173.4 1247.60,186.7 1248.44,233.7 1250.05,250.0 1250.95,259.1 1252.55,250.9 1253.47,247.3 1255.05,237.7 1255.98,235.7 1257.55,242.1 1258.50,243.3 1260.05,256.8 1261.01,263.6 1262.55,275.3 1263.52,284.2 1265.05,281.1 1266.30,288.4 1267.55,282.3 1268.80,288.3 1269.39,284.9 1270.05,290.5 1271.30,289.6 1272.74,298.4 1273.80,292.2 1275.05,300.2 1276.30,295.1 1277.55,299.5 1278.80,295.4 1280.05,294.0 1281.30,300.4 1282.55,300.3 1283.80,295.7 1284.48,298.4 1285.05,295.1 1286.30,302.0 1287.55,295.3 1288.80,300.4 1290.05,298.0 1291.30,304.3 1292.55,298.6 1293.80,305.7 1295.05,300.1 1296.30,305.5 1297.55,301.0 1298.80,299.5 1300.05,299.1 1301.24,303.2 1302.55,309.4 1303.80,308.4 1305.05,302.9 1306.30,310.1 1307.55,302.6 1308.80,303.7 1310.05,311.5 1311.30,308.6 1312.55,303.7 1313.80,307.0 1315.05,301.7 1316.30,305.3 1317.55,304.2 1318.80,298.0 1320.05,300.2 1321.30,293.2 1322.55,301.8 1323.80,292.8 1325.05,296.4 1326.38,291.9 1327.55,295.8 1328.80,292.9 1330.05,299.0 1331.30,295.0 1332.55,302.3 1333.09,299.8 1333.80,299.4 1335.05,294.1 1336.30,297.4 1337.55,289.3 1338.80,296.4 1340.05,284.6 1341.47,288.2 1342.55,284.4 1343.80,291.2 1345.05,293.8 1346.30,293.5 1347.55,287.6 1348.80,296.2 1350.05,292.1 1351.52,294.5 1352.55,296.4 1353.80,290.8 1355.05,296.4 1356.30,290.1 1357.55,298.0 1358.80,288.5 1360.05,296.3 1361.30,289.4 1362.55,294.5 1363.80,288.3 1364.93,291.4 1366.30,288.6 1367.55,295.7 1368.80,290.4 1370.05,295.9 1371.30,287.9 1372.55,295.3 1373.80,290.5 1375.05,296.3 1376.30,287.0 1377.55,297.9 1378.80,289.3 1380.02,293.3 1381.30,294.9 1382.55,290.6 1383.80,289.4 1385.05,296.1 1386.30,290.0 1387.55,289.5 1388.40,289.6 1390.05,289.9 1391.30,299.8 1392.55,291.2 1393.80,299.4 1395.05,296.4 1396.78,301.3 1397.55,295.9 1398.80,295.0 1400.05,301.8 1401.30,293.6 1402.55,294.4" fill="none" stroke="#000" stroke-width="0.95" stroke-linejoin="miter" stroke-miterlimit="2"/>
<polyline points="458.50,783.8 459.75,795.0 461.00,783.5 462.25,788.2 463.50,786.8 464.75,780.9 466.00,784.2 466.98,779.6 468.50,785.5 469.75,780.7 471.00,783.4 472.25,789.7 473.63,790.3 474.75,785.1 476.00,785.3 476.96,778.6 478.50,785.9 479.75,782.0 481.00,790.5 481.95,791.8 483.50,793.3 484.75,786.2 486.00,791.6 487.25,786.9 488.50,789.0 489.75,787.0 490.27,789.3 491.00,784.4 492.25,785.1 493.50,790.0 494.75,781.3 496.00,789.0 497.25,781.9 498.50,790.8 499.75,781.2 500.25,785.5 501.00,786.9 502.25,787.9 503.50,782.7 504.75,791.9 506.00,791.2 506.90,787.0 508.50,785.4 509.75,790.1 511.00,784.4 512.25,792.6 513.50,785.9 515.22,789.5 516.00,786.4 517.25,792.9 518.50,784.5 519.75,791.7 521.00,782.8 522.25,788.0 523.54,784.2 524.75,786.4 526.00,779.6 527.25,783.6 528.53,781.8 529.75,778.5 531.00,786.1 532.25,782.8 533.50,786.3 535.18,786.0 536.00,787.8 537.25,780.3 538.51,779.9 540.17,790.5 541.00,789.7 542.25,795.1 543.50,788.9 544.75,793.5 546.00,791.6 546.83,788.9 548.50,792.0 549.75,784.2 551.00,787.8 552.25,781.1 553.50,785.5 554.75,779.0 556.00,783.7 556.81,779.2 558.50,783.6 559.75,784.8 561.00,781.7 562.25,791.0 563.46,787.7 564.75,780.2 566.00,778.8 567.62,771.3 568.50,776.2 569.75,770.4 571.00,775.3 572.25,771.2 573.44,778.8 574.75,775.0 576.00,774.7 577.25,784.1 578.50,778.0 580.10,780.7 581.00,781.7 582.25,774.3 583.50,778.3 585.09,772.4 586.00,775.5 587.25,768.8 588.50,777.1 589.75,773.4 591.00,773.8 592.25,777.2 593.41,774.9 594.75,780.1 596.00,772.1 597.25,777.3 598.50,771.2 599.75,775.9 601.00,767.6 601.72,772.9 602.25,768.9 603.50,773.4 604.75,766.0 606.00,774.6 607.25,769.6 608.50,771.3 610.04,769.4 611.00,774.3 612.25,768.5 613.50,777.5 614.75,766.7 616.00,776.2 616.70,772.3 617.25,777.5 618.50,773.7 619.75,779.1 621.00,775.6 622.25,782.8 623.35,780.6 625.01,784.1 626.00,778.8 627.25,779.2 628.34,774.2 629.75,776.8 631.00,770.0 631.67,771.6 632.25,763.2 633.33,748.2 634.16,720.3 634.75,733.8 635.33,748.3 636.32,771.4 637.25,775.9 638.50,776.5 639.98,782.2 641.00,784.5 642.25,776.0 643.50,775.1 644.75,777.0 645.81,772.0 647.25,778.8 648.50,775.2 649.97,782.8 651.00,779.0 652.25,786.6 653.50,782.4 654.75,789.0 656.00,787.5 656.62,790.4 657.25,793.3 657.95,800.4 658.50,798.2 659.95,786.9 661.00,788.2 662.25,783.0 663.50,784.7 664.75,778.1 666.00,782.2 666.60,777.0 667.25,780.7 668.50,775.1 669.75,781.5 671.00,778.4 672.25,770.0 673.50,779.3 674.75,772.0 676.00,779.9 676.58,775.7 677.25,779.5 678.50,778.1 679.75,786.2 681.00,785.3 681.57,788.6 682.25,784.4 683.50,783.1 684.75,786.3 686.00,784.5 687.39,779.6 688.50,784.9 689.75,791.5 690.72,797.0 692.25,795.0 693.50,802.9 694.75,803.5 695.71,803.8 697.25,797.3 698.50,800.2 699.75,792.6 701.00,794.2 701.53,790.7 702.25,793.6 703.50,786.7 704.75,796.9 706.00,791.7 707.25,790.9 708.50,790.8 709.85,793.9 711.00,796.1 712.25,786.4 713.50,794.8 714.84,789.2 716.00,792.1 717.25,781.4 719.00,784.4 719.75,778.9 721.00,776.9 722.25,768.8 723.19,764.2 724.75,775.8 725.70,776.3 727.25,775.6 728.50,768.1 729.75,768.6 731.00,763.0 732.41,762.7 733.50,760.2 734.75,764.0 736.00,763.9 737.25,755.3 738.50,759.6 739.11,756.6 739.75,758.7 741.00,753.7 742.25,761.4 743.50,755.8 744.75,764.5 745.82,758.9 747.25,759.1 748.50,764.9 749.75,757.8 750.85,759.3 752.25,755.8 753.50,757.6 754.20,753.2 754.75,752.5 756.00,759.6 757.55,761.9 758.50,771.3 759.23,777.1 759.75,786.4 760.57,800.0 762.25,777.1 763.42,752.1 764.75,745.4 766.00,749.8 767.61,744.2 768.50,739.0 769.75,738.5 770.96,740.6 772.25,736.9 773.50,746.4 774.75,739.7 775.99,743.1 777.25,749.4 778.50,741.9 779.75,748.6 781.02,744.0 782.25,748.7 783.53,757.3 784.75,757.3 786.00,769.2 787.72,768.3 788.50,771.0 789.75,771.7 791.00,768.8 792.25,771.5 793.50,777.2 794.43,775.0 796.00,768.2 797.25,775.9 798.50,769.5 799.75,773.6 801.00,772.3 802.25,765.3 802.81,770.5 803.50,771.2 804.75,765.7 806.00,772.2 807.25,764.0 808.50,770.2 809.51,766.1 811.00,770.7 812.25,768.7 812.87,773.9 813.50,770.9 814.75,766.2 816.22,764.3 817.25,763.4 818.50,767.9 819.75,775.4 821.25,777.0 822.25,789.9 822.92,797.2 823.76,811.7 824.75,783.1 825.44,763.8 826.00,759.4 827.25,754.9 828.29,747.2 829.75,756.2 830.47,756.5 831.00,760.8 832.25,766.2 832.98,771.2 833.50,768.1 834.75,777.3 836.00,772.1 837.25,780.1 838.50,774.9 839.69,781.6 841.00,778.1 842.25,785.9 843.50,783.0 844.75,785.3 846.39,789.3 847.25,787.4 848.50,795.8 849.75,787.1 851.00,799.8 852.26,798.4 853.50,793.2 854.75,798.7 856.00,791.2 857.25,799.0 858.50,790.7 859.75,797.8 861.48,795.1 862.25,790.6 863.50,793.8 864.75,789.4 866.00,793.0 867.25,786.6 868.18,789.6 869.75,782.8 871.00,786.9 872.25,778.6 873.21,779.8 874.75,783.6 876.00,775.6 877.25,776.3 878.50,783.7 879.75,776.4 881.00,775.3 881.59,780.2 882.25,776.9 883.50,779.3 884.75,771.9 886.00,769.5 886.62,773.4 887.25,767.9 888.50,776.9 889.75,771.1 891.00,777.0 891.65,774.8 892.25,770.4 893.50,768.8 894.75,761.8 896.00,760.3 896.68,756.8 897.25,753.5 898.50,759.7 900.03,752.9 901.00,759.0 902.25,754.5 903.50,763.3 905.06,759.7 906.00,758.6 907.25,748.5 908.41,749.2 909.75,742.2 911.00,738.4 912.25,731.1 913.44,727.3 914.75,718.5 916.00,712.1 916.79,707.3 918.50,705.5 919.30,709.4 921.00,708.8 922.66,716.2 923.50,722.1 924.75,723.8 926.00,730.7 926.85,731.2 928.50,738.4 929.75,739.2 931.00,746.9 931.88,746.3 933.50,753.2 934.75,756.0 936.00,763.8 936.90,764.9 938.50,773.5 939.75,775.1 940.26,780.9 941.00,781.0 942.25,788.0 943.61,786.6 944.75,792.1 946.00,791.3 947.25,784.1 948.50,789.8 949.75,784.5 951.00,789.4 952.25,786.7 953.67,789.9 954.75,784.0 956.00,790.1 957.25,785.7 958.50,790.7 959.75,783.7 961.00,789.1 962.05,786.5 963.50,790.6 964.75,784.2 966.00,788.5 967.25,781.6 968.50,789.0 969.75,789.1 970.43,783.4 971.00,782.1 972.25,789.8 973.50,783.1 974.75,792.3 976.00,782.7 977.25,791.3 978.50,787.6 979.75,790.8" fill="none" stroke="#000" stroke-width="0.95" stroke-linejoin="miter" stroke-miterlimit="2"/>
<polyline points="458.50,933.4 459.75,936.1 461.00,941.3 462.25,936.6 463.50,941.6 464.75,940.8 466.00,936.5 467.25,940.0 468.50,937.1 469.75,941.6 471.00,941.6 472.25,936.4 473.63,939.7 474.75,935.8 476.00,943.4 477.25,938.7 478.50,942.9 479.75,937.4 481.00,945.2 482.25,939.7 483.50,946.0 484.75,947.3 485.28,943.5 486.00,947.4 487.25,939.0 488.50,944.1 489.75,938.6 490.27,940.3 491.00,934.6 492.25,943.0 493.50,935.1 494.75,940.5 496.00,934.4 497.25,942.8 498.50,935.8 499.75,939.1 501.00,934.0 502.25,934.9 503.50,941.4 504.75,939.5 506.00,936.2 506.90,937.4 508.50,933.8 509.75,938.7 511.00,941.8 512.25,935.5 513.50,942.0 514.75,942.2 516.00,941.6 517.25,941.4 518.50,933.0 519.75,942.4 521.00,942.0 522.25,933.2 523.54,940.7 524.75,935.1 526.00,940.9 527.25,935.8 528.50,941.0 529.75,933.1 531.00,938.7 531.86,933.9 533.50,939.9 534.75,940.9 536.00,930.7 537.25,942.8 538.50,938.3 540.17,941.8 541.00,937.4 542.25,943.0 543.50,937.6 544.75,943.5 546.00,934.5 547.25,939.3 548.50,933.7 550.16,935.6 551.00,931.8 552.25,937.1 553.50,932.3 554.75,938.9 556.00,934.0 557.25,941.4 558.50,934.8 560.14,940.5 561.00,942.7 562.25,935.8 563.50,941.8 564.75,934.0 566.00,938.6 567.25,932.7 568.50,932.8 570.12,934.6 571.00,928.6 572.25,935.4 573.50,929.2 574.75,929.2 576.00,934.8 576.77,930.4 578.50,934.2 579.75,932.9 581.00,924.7 582.25,935.9 583.43,927.3 584.75,931.7 586.00,927.6 587.25,937.1 588.50,938.4 590.08,937.1 591.00,942.1 592.25,936.8 593.50,941.3 594.75,937.0 596.00,948.1 597.25,937.1 598.50,936.5 600.06,942.0 601.00,943.6 602.25,944.3 603.50,937.2 604.75,941.4 606.00,934.5 606.71,937.6 607.25,940.7 608.50,935.9 609.75,942.1 611.00,933.3 612.25,936.3 613.50,941.7 615.03,938.7 616.00,941.1 617.25,935.3 618.50,941.1 619.75,932.1 621.00,937.6 622.25,932.0 623.50,937.3 625.01,932.2 626.00,939.0 627.25,933.2 628.50,938.1 629.75,934.8 631.00,942.0 631.67,938.8 632.25,943.4 633.50,935.4 634.75,942.9 636.00,938.5 637.25,943.6 638.50,939.2 639.98,940.1 641.00,943.4 642.25,940.0 643.50,945.1 644.75,940.1 646.00,947.0 647.25,938.5 648.50,946.2 649.97,941.6 651.00,947.0 652.25,937.5 653.50,941.5 654.96,936.1 656.00,926.7 657.45,911.0 658.50,912.5 659.95,911.6 661.00,922.7 661.61,930.0 662.25,927.1 663.50,935.2 664.75,932.1 666.00,937.9 666.60,935.9 667.25,939.3 668.50,934.5 669.75,942.6 671.00,935.8 672.25,941.0 673.25,938.4 674.75,945.6 676.00,936.2 677.25,943.1 678.50,936.5 679.75,944.9 681.00,938.7 682.25,943.4 683.50,938.0 684.75,945.3 686.00,939.5 686.56,942.8 687.25,936.1 688.23,929.7 689.56,910.1 691.00,915.8 691.55,920.0 692.25,931.8 692.88,943.1 693.50,943.4 694.88,952.7 696.00,945.8 697.25,951.6 698.50,945.1 699.87,945.6 701.00,939.6 702.25,938.6 703.20,934.0 704.75,934.2 706.00,924.3 706.52,927.5 707.25,927.4 708.50,934.6 709.85,935.6 711.00,940.5 712.25,939.1 713.50,941.7 714.84,940.4 716.00,945.5 717.25,939.6 719.00,942.8 719.75,940.7 721.00,944.0 722.25,940.0 723.50,944.0 724.75,939.6 726.00,947.4 727.25,938.5 728.50,945.0 729.75,939.1 731.00,945.2 732.25,944.3 733.50,943.6 734.75,938.8 735.76,941.2 737.25,937.4 738.50,941.3 739.75,937.0 741.00,944.7 742.25,935.2 743.50,943.4 744.75,936.3 746.00,934.4 747.25,942.2 748.50,935.6 749.75,934.8 751.00,940.3 752.52,936.4 753.50,935.2 755.04,939.6 756.00,933.4 757.55,927.5 758.50,917.7 759.23,910.6 760.07,877.0 761.24,843.7 762.25,885.4 763.42,913.9 764.59,934.1 766.00,933.1 767.25,932.1 768.50,940.5 769.75,934.7 770.96,940.2 772.25,934.2 773.50,943.1 774.75,946.7 776.00,941.3 777.67,946.8 778.50,942.5 779.75,948.6 781.00,941.5 782.25,948.5 783.50,942.7 784.75,947.6 786.05,944.7 787.25,949.1 788.50,939.3 789.75,948.8 791.00,941.8 792.25,948.8 793.50,946.5 794.75,941.6 796.00,949.3 797.25,940.5 797.78,946.1 798.50,940.3 799.75,943.9 801.00,937.6 802.25,943.7 803.50,936.1 804.75,939.7 806.16,934.8 807.25,935.0 808.50,927.8 809.75,930.5 810.35,926.6 811.00,926.2 812.25,917.7 812.87,919.1 813.50,916.7 814.75,924.2 816.22,926.5 817.25,921.5 818.50,923.7 819.24,918.9 819.75,910.8 821.25,885.4 822.59,845.2 823.59,816.6 824.94,840.2 826.28,873.6 827.25,882.1 828.29,891.8 829.75,882.7 830.47,880.7 831.00,876.6 832.65,875.4 833.50,876.7 834.99,883.4 836.00,892.3 837.25,900.9 838.01,907.4 839.75,922.9 840.52,928.8 842.25,933.5 843.50,931.8 844.75,938.3 846.39,936.0 847.25,933.8 848.50,941.6 849.75,934.3 851.00,943.3 852.25,936.8 853.10,937.6 854.75,942.4 856.00,935.0 857.25,940.7 858.50,936.6 859.75,934.9 861.48,939.0 862.25,934.1 863.50,940.4 864.75,930.6 866.00,936.9 867.25,943.4 868.50,941.5 869.86,939.1 871.00,941.4 872.25,938.4 873.50,939.8 874.75,944.8 876.00,940.3 877.25,940.5 878.50,947.0 879.75,943.0 881.00,951.1 882.25,949.6 883.27,946.6 884.75,950.4 886.00,939.9 887.25,947.1 888.50,941.2 889.75,945.2 891.00,941.7 892.25,944.2 893.50,944.8 895.00,938.6 896.00,939.7 897.25,932.8 898.50,937.9 899.75,932.8 901.00,935.2 902.25,937.2 903.50,927.0 904.22,930.0 904.75,927.0 906.00,933.1 907.25,930.1 908.41,935.7 909.75,934.9 911.00,943.3 912.25,937.4 913.50,942.8 915.11,942.8 916.00,946.2 917.25,939.5 918.50,944.6 919.75,935.7 921.00,939.0 922.25,933.2 923.50,935.7 924.75,938.2 926.00,931.1 927.25,938.5 928.50,934.8 929.75,934.4 931.00,941.8 932.25,936.3 933.50,945.0 934.75,938.1 936.00,945.4 936.90,941.6 938.50,949.0 939.75,938.6 941.00,946.0 942.25,938.1 943.50,948.7 944.75,938.7 945.29,944.5 946.00,941.1 947.25,945.5 948.50,940.7 949.75,948.3 951.00,938.7 952.25,942.9 953.50,937.5 954.75,941.0 956.00,940.3 957.02,936.8 958.50,939.0 959.75,939.2 961.00,931.7 962.25,938.3 963.50,928.0 964.75,936.3 965.40,929.9 966.00,933.9 967.25,928.9 968.50,935.5 969.75,929.2 971.00,935.8 972.25,930.2 973.50,939.1 974.75,930.5 976.00,936.9 977.25,931.2 978.50,942.3 979.75,934.9" fill="none" stroke="#000" stroke-width="0.95" stroke-linejoin="miter" stroke-miterlimit="2"/>
<polyline points="881.30,443.4 882.55,455.7 883.80,451.1 885.05,444.9 886.30,451.3 887.55,449.2 888.80,442.5 890.05,444.8 891.30,451.8 892.55,444.1 893.80,448.7 895.05,451.5 896.30,442.6 897.55,448.1 898.80,444.5 900.05,451.8 901.30,443.4 902.55,446.1 903.80,450.0 905.05,442.8 906.30,451.2 907.55,444.0 908.80,451.8 910.05,444.6 911.30,452.0 912.55,444.0 913.80,448.6 915.05,450.4 916.30,441.9 917.55,448.4 918.80,444.6 920.05,451.0 921.30,442.1 922.55,451.1 923.80,445.7 925.05,452.3 926.30,442.6 927.55,449.7 928.80,443.5 930.05,452.5 931.30,442.8 932.55,449.3 933.80,444.0 935.05,451.6 936.30,451.1 937.55,442.8 938.80,443.4 940.05,449.7 941.30,441.6 942.55,451.6 943.80,445.0 945.05,452.2 946.30,443.2 947.55,451.4 948.80,443.0 950.05,443.8 951.30,450.8 952.55,441.1 953.80,450.3 955.05,444.5 956.30,449.6 957.55,442.7 958.80,441.6 960.05,444.8 961.30,450.9 962.55,443.3 963.80,441.4 965.05,449.2 966.30,443.7 967.55,450.8 968.80,441.0 970.05,450.4 971.30,443.5 972.55,441.1 973.80,450.4 975.05,442.2 976.30,449.5 977.55,441.6 978.80,451.5 980.05,443.7 981.30,448.2 982.55,441.0 983.80,448.9 985.05,446.5 986.30,442.7 987.55,452.0 988.80,441.7 990.05,450.6 991.30,438.5 992.55,449.8 993.80,443.9 995.05,451.3 996.30,440.3 997.55,449.9 998.80,444.8 1000.00,447.1 1001.30,443.6 1002.55,448.6 1003.80,440.9 1005.05,450.1 1006.30,441.3 1007.55,450.1 1008.80,443.6 1010.05,448.3 1011.30,442.1 1012.55,449.4 1013.80,448.4 1015.05,441.3 1016.30,448.4 1017.55,442.3 1018.80,452.5 1020.05,440.2 1021.30,450.3 1022.55,443.1 1023.80,444.6 1025.05,440.9 1026.30,449.5 1027.55,441.3 1028.80,450.7 1030.05,445.4 1031.30,448.0 1032.55,438.4 1033.80,451.9 1035.05,447.2 1036.30,441.3 1037.55,447.8 1038.80,449.8 1040.05,440.9 1041.30,449.5 1042.55,442.9 1043.80,442.5 1045.05,443.6 1046.30,450.4 1047.55,448.9 1048.80,449.2 1050.05,443.7 1051.30,450.4 1052.55,441.6 1053.80,442.9 1055.05,444.5 1056.30,441.1 1057.55,443.6 1058.80,449.6 1060.05,442.3 1061.30,441.3 1062.55,447.5 1063.80,441.5 1065.05,447.6 1066.30,442.5 1067.55,450.7 1068.80,442.4 1070.05,449.2 1071.30,444.0 1072.55,448.8 1073.80,444.3 1075.05,450.5 1076.30,442.8 1077.55,447.7 1078.80,451.5 1080.05,445.3 1081.30,451.2 1082.55,442.4 1083.80,449.9 1085.05,449.0 1086.30,444.3 1087.55,448.4 1088.80,445.0 1090.05,441.4 1091.30,449.9 1092.55,448.8 1093.80,442.2 1095.05,449.3 1096.30,443.4 1097.55,450.0 1098.80,442.9 1100.00,447.5 1101.30,450.3 1102.55,451.5 1103.80,442.0 1105.05,448.2 1106.30,439.5 1107.55,448.6 1108.80,446.0 1110.05,449.5 1111.30,443.4 1112.55,451.8 1113.80,444.2 1115.05,449.0 1116.30,442.1 1117.55,449.4 1118.80,443.5 1120.05,451.5 1121.30,449.6 1122.55,450.3 1123.80,443.4 1125.05,451.1 1126.30,443.3 1128.00,447.7 1128.80,442.9 1130.40,439.1 1131.30,440.9 1133.00,448.0 1133.80,444.6 1135.05,450.1 1136.30,443.4 1137.55,450.2 1138.80,449.9 1140.05,444.7 1141.30,450.0 1142.55,438.5 1143.80,451.5 1145.05,442.5 1146.30,451.1 1147.55,445.6 1148.80,450.9 1150.05,451.6 1151.30,442.9 1152.55,452.6 1153.80,442.7 1155.05,452.9 1156.30,446.5 1157.55,451.0 1158.80,442.3 1160.05,450.3 1161.30,445.2 1162.55,449.6 1163.80,443.5 1165.05,449.7 1166.30,444.5 1167.55,452.2 1168.80,444.6 1170.05,452.1 1171.30,443.4 1172.55,451.3 1173.80,443.6 1175.05,448.5 1176.30,444.4 1177.55,450.7 1178.80,453.2 1180.05,445.2 1181.30,452.4 1182.55,442.6 1183.80,451.6 1185.05,444.6 1186.30,452.0 1187.55,444.6 1188.80,449.2 1190.05,443.1 1191.30,453.4 1192.55,445.0 1193.80,451.7 1195.05,449.2 1196.30,449.9 1197.55,444.5 1198.80,453.2 1200.05,444.5 1201.30,453.1 1202.55,446.8 1203.80,449.2 1205.05,445.6 1206.30,454.4 1207.55,446.5 1208.80,451.7 1210.05,443.4 1211.30,451.1 1212.55,443.6 1213.80,450.3 1215.05,444.5 1216.30,456.0 1217.55,450.1 1218.80,446.8 1220.05,452.4 1221.30,444.6 1222.55,452.6 1223.80,443.2 1225.05,453.1 1226.30,451.1 1227.55,443.0 1228.80,444.7 1230.05,443.0 1231.30,451.3 1232.55,445.7 1233.80,452.2 1235.05,450.6 1236.30,450.5 1237.55,445.4 1239.00,449.0 1240.05,439.9 1241.30,433.6 1242.00,427.4 1242.55,414.1 1243.80,384.2 1244.50,367.3 1245.05,356.4 1246.40,328.8 1248.00,345.0 1249.00,390.0 1250.05,406.2 1251.00,420.5 1253.00,409.7 1253.80,408.7 1255.05,399.5 1256.00,398.1 1257.55,402.4 1259.00,410.3 1260.05,416.1 1261.30,426.4 1262.00,429.6 1262.55,434.0 1263.80,438.2 1264.40,444.1 1265.05,448.4 1266.30,439.2 1267.00,446.4 1267.55,442.0 1268.80,447.9 1270.05,442.1 1271.30,450.7 1272.55,442.9 1273.80,451.4 1275.05,450.6 1276.30,444.9 1277.55,450.9 1278.80,445.3 1280.05,450.6 1281.30,450.4 1282.55,444.2 1283.80,451.4 1285.05,444.3 1286.30,443.5 1287.55,454.1 1288.80,446.4 1290.00,448.3 1291.30,451.6 1292.55,444.8 1293.80,454.2 1295.05,446.5 1296.30,455.4 1297.55,448.4 1298.80,453.5 1300.05,445.7 1301.30,445.3 1302.55,454.6 1303.80,448.9 1305.05,454.9 1306.30,449.7 1307.55,447.9 1308.80,454.7 1310.05,450.3 1311.30,457.4 1312.55,448.8 1313.80,456.3 1315.05,450.3 1316.30,449.7 1317.55,455.0 1318.80,459.7 1320.00,452.0 1321.30,454.8 1322.55,458.5 1323.80,448.6 1325.05,457.3 1326.30,448.0 1327.55,457.0 1328.80,456.1 1330.05,450.3 1331.30,454.1 1332.55,448.5 1333.80,457.4 1335.05,451.1 1336.30,455.0 1337.55,448.8 1338.80,455.1 1340.05,448.7 1341.30,451.4 1342.55,455.4 1343.80,449.4 1345.05,453.7 1346.30,450.2 1347.55,458.3 1348.80,447.8 1350.00,451.5 1351.30,456.2 1352.55,448.5 1353.80,458.2 1355.05,447.7 1356.30,455.5 1357.55,444.9 1358.80,453.4 1360.05,456.9 1361.30,453.1 1362.55,445.5 1363.80,453.3 1365.05,447.6 1366.30,452.8 1367.55,445.8 1368.80,446.7 1370.05,452.5 1371.30,445.0 1372.55,456.0 1373.80,443.7 1375.05,451.9 1376.30,445.3 1377.55,451.5 1378.80,443.7 1380.00,447.4 1381.30,452.0 1382.55,451.1 1383.80,446.1 1385.05,445.3 1386.30,451.5 1387.55,443.0 1388.80,450.8 1390.05,443.1 1391.30,453.2 1392.55,452.7 1393.80,444.2 1395.05,450.8 1396.30,445.4 1397.55,449.5 1398.80,443.4 1400.05,452.5 1401.30,443.4 1402.55,450.3" fill="none" stroke="#ff0000" stroke-width="0.95" stroke-linejoin="miter" stroke-miterlimit="2"/>
<polyline points="881.30,442.8 882.55,448.9 883.80,455.7 885.05,446.0 886.30,452.8 887.55,442.2 888.80,451.8 890.05,444.3 891.30,449.7 892.55,443.8 893.80,450.2 895.05,450.2 896.30,444.1 897.55,453.7 898.80,444.9 900.05,443.2 901.30,451.1 902.55,445.2 903.80,442.6 905.05,449.7 906.30,444.0 907.55,452.6 908.80,443.8 910.05,450.0 911.30,442.5 912.55,443.4 913.80,452.6 915.05,440.9 916.30,452.8 917.55,444.1 918.80,451.4 920.05,445.3 921.30,451.8 922.55,442.5 923.80,452.3 925.05,444.4 926.30,452.6 927.55,451.8 928.80,443.2 930.05,448.8 931.30,442.8 932.55,448.6 933.80,444.2 935.05,449.5 936.30,443.7 937.55,450.8 938.80,452.9 940.05,445.2 941.30,453.3 942.55,442.8 943.80,449.8 945.05,443.7 946.30,445.3 947.55,443.4 948.80,450.6 950.05,445.4 951.30,442.9 952.55,450.4 953.80,444.9 955.05,450.4 956.30,446.7 957.55,449.5 958.80,450.9 960.05,443.0 961.30,452.7 962.55,442.2 963.80,443.9 965.05,452.7 966.30,439.5 967.55,449.4 968.80,444.9 970.05,452.7 971.30,451.8 972.55,445.9 973.80,450.4 975.05,451.9 976.30,445.8 977.55,453.0 978.80,445.5 980.05,453.1 981.30,444.1 982.55,451.7 983.80,442.7 985.05,453.6 986.30,443.1 987.55,445.2 988.80,452.4 990.05,442.5 991.30,450.0 992.55,444.2 993.80,450.9 995.05,447.3 996.30,450.7 997.55,446.7 998.80,452.9 1000.00,447.6 1001.30,450.7 1002.55,445.2 1003.80,450.6 1005.05,443.2 1006.30,451.1 1007.55,444.7 1008.80,452.8 1010.05,444.3 1011.30,451.1 1012.55,452.9 1013.80,444.9 1015.05,450.8 1016.30,445.7 1017.55,452.0 1018.80,445.5 1020.05,450.0 1021.30,443.7 1022.55,451.0 1023.80,443.1 1025.05,446.2 1026.30,450.7 1027.55,443.4 1028.80,453.2 1030.05,444.3 1031.30,451.0 1032.55,446.7 1033.80,452.1 1035.05,444.8 1036.30,453.9 1037.55,444.0 1038.80,443.5 1040.05,451.5 1041.30,445.5 1042.55,450.5 1043.80,443.0 1045.05,452.5 1046.30,446.8 1047.55,451.5 1048.80,439.9 1050.05,445.6 1051.30,444.9 1052.55,450.0 1053.80,452.6 1055.05,444.1 1056.30,452.1 1057.55,444.8 1058.80,452.2 1060.05,450.1 1061.30,443.0 1062.55,450.5 1063.80,445.6 1065.05,450.7 1066.30,445.0 1067.55,450.1 1068.80,442.7 1070.05,453.5 1071.30,444.7 1072.55,451.2 1073.80,443.3 1075.05,450.8 1076.30,442.1 1077.55,451.8 1078.80,443.4 1080.05,448.4 1081.30,442.9 1082.55,449.3 1083.80,440.1 1085.05,453.4 1086.30,442.9 1087.55,452.6 1088.80,452.5 1090.05,446.5 1091.30,451.3 1092.55,440.1 1093.80,453.3 1095.05,450.5 1096.30,443.3 1097.55,451.2 1098.80,443.2 1100.05,450.4 1101.30,443.4 1102.55,452.6 1103.80,442.8 1105.05,453.5 1106.30,443.8 1107.55,450.9 1108.80,443.7 1110.05,454.1 1111.30,439.3 1112.55,454.2 1113.80,450.2 1115.05,445.1 1116.30,451.0 1117.55,450.7 1118.80,451.6 1120.05,445.8 1121.30,448.5 1122.55,445.0 1123.80,452.9 1125.05,442.0 1126.30,451.0 1127.55,444.9 1128.80,451.2 1130.05,444.1 1131.30,452.5 1132.55,449.9 1133.80,445.8 1135.05,450.2 1136.30,439.5 1137.55,444.8 1138.80,442.6 1140.05,451.1 1141.30,445.2 1142.55,445.4 1143.80,450.4 1145.05,443.4 1146.30,452.8 1147.55,443.0 1148.80,453.9 1150.05,442.9 1151.30,453.4 1152.55,443.5 1153.80,451.9 1155.05,446.2 1156.30,451.6 1157.55,442.1 1158.80,451.1 1160.05,442.2 1161.30,453.7 1162.55,444.7 1163.80,452.2 1165.05,441.9 1166.30,450.9 1167.55,440.1 1168.80,453.6 1170.05,443.1 1171.30,449.3 1172.55,443.5 1173.80,453.5 1175.05,444.8 1176.30,448.1 1177.55,443.0 1178.80,442.3 1180.05,450.3 1181.00,446.8 1182.60,422.4 1184.20,384.3 1185.20,393.1 1186.20,417.3 1187.20,447.3 1188.80,443.7 1190.05,453.6 1191.30,444.3 1192.55,449.9 1193.80,443.9 1195.05,450.1 1196.30,445.3 1197.55,449.5 1198.80,452.7 1200.05,442.9 1201.30,452.7 1202.55,438.8 1203.80,451.6 1205.05,442.5 1206.30,445.1 1207.55,450.9 1208.80,443.1 1210.05,449.6 1211.30,444.4 1212.55,451.2 1213.80,443.5 1215.05,443.7 1216.30,452.3 1217.55,446.1 1218.80,451.6 1220.05,440.9 1221.30,451.2 1222.55,444.2 1223.80,449.9 1225.05,444.7 1226.30,449.5 1227.55,450.8 1228.80,442.8 1230.05,450.8 1231.30,441.8 1232.55,449.3 1233.80,443.9 1235.05,452.2 1236.30,445.1 1237.55,451.1 1238.80,445.2 1240.05,452.1 1241.30,444.4 1242.55,451.8 1243.80,451.8 1245.05,450.5 1246.30,441.9 1247.55,450.6 1248.80,443.8 1250.05,449.6 1251.30,442.7 1252.55,450.7 1253.80,443.8 1255.05,452.5 1256.30,441.2 1257.55,450.3 1258.80,444.9 1260.05,450.7 1261.30,443.5 1262.55,449.5 1263.80,445.4 1265.05,451.5 1266.30,443.0 1267.55,452.9 1268.80,445.4 1270.05,451.6 1271.30,443.2 1272.55,456.3 1273.80,440.5 1275.05,450.8 1276.30,443.4 1277.55,452.5 1278.80,445.3 1280.05,451.0 1281.30,445.9 1282.55,453.7 1283.80,449.3 1285.05,442.9 1286.30,451.7 1287.55,443.2 1288.80,450.3 1290.05,442.4 1291.30,450.9 1292.55,441.4 1293.80,451.5 1295.05,444.8 1296.30,450.7 1297.55,446.2 1298.80,448.9 1300.05,442.5 1301.30,450.1 1302.55,446.3 1303.80,450.3 1305.05,445.1 1306.30,451.2 1307.55,444.1 1308.80,450.5 1310.05,445.3 1311.30,452.0 1312.55,443.0 1313.80,444.2 1315.05,449.4 1316.30,443.8 1317.55,442.6 1318.80,450.3 1320.05,444.5 1321.30,449.7 1322.55,442.7 1323.80,450.7 1325.05,442.3 1326.30,450.2 1327.55,442.4 1328.80,452.2 1330.05,442.0 1331.30,451.1 1332.55,444.2 1333.80,451.3 1335.05,444.8 1336.30,453.3 1337.55,449.9 1338.80,444.0 1340.05,451.1 1341.30,444.7 1342.55,449.4 1343.80,441.8 1345.05,451.2 1346.30,443.8 1347.55,451.0 1348.80,446.5 1350.05,449.7 1351.30,445.5 1352.55,451.7 1353.80,442.5 1355.05,443.2 1356.30,449.1 1357.55,443.8 1358.80,451.6 1360.05,452.4 1361.30,443.0 1362.55,444.5 1363.80,453.6 1365.05,451.4 1366.30,441.5 1367.55,450.8 1368.80,446.1 1370.05,450.4 1371.30,441.0 1372.55,448.1 1373.80,442.2 1375.05,450.8 1376.30,443.4 1377.55,451.9 1378.80,445.4 1380.05,449.4 1381.30,442.7 1382.55,453.1 1383.80,443.2 1385.05,448.4 1386.30,444.3 1387.55,443.6 1388.80,453.3 1390.05,452.4 1391.30,444.3 1392.55,450.6 1393.80,450.9 1395.05,451.8 1396.30,442.9 1397.55,452.6 1398.80,445.0 1400.05,451.3 1401.30,443.8 1402.55,452.1" fill="none" stroke="#0000ff" stroke-width="0.95" stroke-linejoin="miter" stroke-miterlimit="2"/>
<polyline points="881.30,450.4 882.55,444.0 883.80,443.8 885.05,449.2 886.30,444.9 887.55,450.4 888.80,442.3 890.05,446.0 891.30,449.3 892.55,444.5 893.80,448.8 895.05,444.2 896.30,450.7 897.55,444.9 898.80,448.4 900.05,448.8 901.30,445.4 902.55,450.3 903.80,445.5 905.05,449.6 906.30,444.0 907.55,450.7 908.80,444.9 910.05,448.5 911.30,445.1 912.55,449.1 913.80,443.9 915.05,449.3 916.30,446.4 917.55,450.9 918.80,446.1 920.05,445.8 921.30,454.3 922.55,446.0 923.80,443.3 925.05,449.3 926.30,444.3 927.55,450.3 928.80,445.0 930.05,450.0 931.30,444.7 932.55,448.8 933.80,448.4 935.05,447.8 936.30,445.6 937.55,447.9 938.80,446.7 940.05,450.4 941.30,445.0 942.55,445.1 943.80,451.0 945.05,443.2 946.30,449.2 947.55,445.1 948.80,448.8 950.05,444.9 951.30,449.5 952.55,445.9 953.80,447.8 955.05,444.1 956.30,450.0 957.55,445.9 958.80,450.4 960.05,449.7 961.30,444.5 962.55,449.0 963.80,444.1 965.05,450.4 966.30,446.6 967.55,447.9 968.80,444.6 970.05,444.1 971.30,444.3 972.55,448.6 973.80,445.4 975.05,450.1 976.30,445.3 977.55,450.0 978.80,445.6 980.05,449.1 981.30,451.3 982.55,444.0 983.80,450.1 985.05,442.6 986.30,448.8 987.55,449.4 988.80,444.0 990.05,448.8 991.30,445.2 992.55,449.3 993.80,444.9 995.05,443.1 996.30,453.1 997.55,445.6 998.80,449.3 1000.05,446.0 1001.30,449.8 1002.55,449.1 1003.80,446.7 1005.05,445.8 1006.30,444.2 1007.55,448.6 1008.80,444.3 1010.05,450.8 1011.30,445.7 1012.55,448.3 1013.80,450.2 1015.05,445.1 1016.30,450.9 1017.55,445.6 1018.80,448.3 1020.05,445.7 1021.30,448.9 1022.55,446.4 1023.80,449.5 1025.05,445.5 1026.30,449.7 1027.55,446.2 1028.80,448.6 1030.05,444.6 1031.30,449.3 1032.55,450.8 1033.80,444.6 1035.05,451.3 1036.30,449.2 1037.55,445.5 1038.80,448.7 1040.05,443.8 1041.30,449.5 1042.55,445.6 1043.80,449.9 1045.05,444.5 1046.30,448.2 1047.55,446.4 1048.80,448.5 1050.05,445.2 1051.30,449.0 1052.55,445.0 1053.80,448.7 1055.05,445.0 1056.30,451.5 1057.55,445.0 1058.80,449.5 1060.05,444.3 1061.30,449.8 1062.55,442.3 1063.80,450.3 1065.05,443.3 1066.30,449.8 1067.55,443.6 1068.80,449.7 1070.05,446.0 1071.30,451.2 1072.55,450.5 1073.80,446.0 1075.05,449.7 1076.30,444.0 1077.55,448.5 1078.80,446.8 1080.05,449.7 1081.30,445.0 1082.55,449.8 1083.80,446.1 1085.05,450.3 1086.30,445.5 1087.55,450.5 1088.80,444.2 1090.05,448.7 1091.30,443.4 1092.55,448.6 1093.80,445.9 1095.05,449.3 1096.30,446.1 1097.55,448.3 1098.80,449.0 1100.05,444.5 1101.30,452.4 1102.55,450.5 1103.80,443.8 1105.05,447.9 1106.30,444.6 1107.55,450.7 1108.80,450.0 1110.05,446.0 1111.30,445.1 1112.55,449.3 1113.80,445.3 1115.05,448.1 1116.30,445.4 1117.55,449.7 1118.80,449.3 1120.05,446.2 1121.30,448.8 1122.55,445.4 1123.80,448.9 1125.05,445.4 1126.30,450.7 1127.55,444.9 1128.80,444.5 1130.00,446.9 1131.30,443.8 1132.00,439.2 1132.55,443.5 1134.00,446.5 1135.05,450.4 1136.30,441.6 1137.55,450.1 1138.80,450.2 1140.05,446.1 1141.30,449.7 1142.55,444.2 1143.80,451.6 1145.05,445.8 1146.30,448.8 1147.55,446.2 1148.80,448.6 1150.05,444.3 1151.30,449.1 1152.55,446.5 1153.80,451.2 1155.05,445.9 1156.30,448.5 1157.55,449.0 1158.80,444.4 1160.05,450.0 1161.30,445.1 1162.55,448.0 1163.80,445.4 1165.05,450.9 1166.30,446.2 1167.55,449.4 1168.80,443.2 1170.05,449.9 1171.30,444.9 1172.55,444.6 1173.80,444.4 1175.05,444.0 1176.30,448.3 1177.55,449.8 1178.80,445.3 1180.05,449.5 1181.30,444.7 1182.55,450.2 1183.80,449.3 1185.05,448.6 1186.30,442.5 1187.55,447.6 1188.80,449.3 1190.05,445.5 1191.30,450.3 1192.55,445.1 1193.80,450.8 1195.05,444.7 1196.30,450.5 1197.55,444.9 1198.80,449.8 1200.05,444.4 1201.30,445.8 1202.55,450.0 1203.80,444.2 1205.05,448.6 1206.30,443.7 1207.55,449.0 1208.80,449.5 1210.05,450.3 1211.30,444.9 1212.55,449.6 1213.80,445.7 1215.05,451.1 1216.30,449.5 1217.55,446.1 1218.80,449.1 1220.05,443.7 1221.30,450.6 1222.55,443.4 1223.80,450.5 1225.05,449.2 1226.30,443.0 1227.55,444.3 1228.80,449.5 1230.05,444.7 1231.30,449.2 1232.55,445.5 1233.80,449.9 1235.05,443.9 1236.30,448.8 1237.55,444.7 1238.80,443.6 1240.05,450.5 1241.30,444.8 1242.55,444.6 1243.80,444.0 1245.05,448.3 1246.30,444.0 1247.55,450.7 1248.80,444.2 1250.05,444.7 1251.30,446.9 1252.55,449.7 1253.80,444.9 1255.05,449.7 1256.30,445.5 1257.55,449.8 1258.80,444.9 1260.05,449.9 1261.30,444.7 1262.55,448.7 1263.80,445.1 1265.05,448.7 1266.30,445.4 1267.55,450.4 1268.80,449.8 1270.05,444.6 1271.30,449.0 1272.55,443.9 1273.80,450.0 1275.05,442.1 1276.30,451.5 1277.55,445.9 1278.80,451.4 1280.05,445.3 1281.30,450.6 1282.55,445.4 1283.80,449.5 1285.05,445.0 1286.30,449.7 1287.55,444.8 1288.80,450.9 1290.05,448.6 1291.30,445.9 1292.55,450.2 1293.80,445.3 1295.05,450.2 1296.30,444.9 1297.55,449.3 1298.80,445.9 1300.05,449.1 1301.30,445.3 1302.55,450.5 1303.80,445.1 1305.05,450.5 1306.30,444.6 1307.55,451.2 1308.80,443.9 1310.05,449.9 1311.30,449.3 1312.55,445.0 1313.80,451.7 1315.05,453.2 1316.30,446.5 1317.55,449.5 1318.80,450.2 1320.05,445.7 1321.30,449.9 1322.55,444.3 1323.80,449.6 1325.05,450.2 1326.30,444.2 1327.55,449.6 1328.80,445.0 1330.05,449.4 1331.30,445.9 1332.55,448.8 1333.80,443.9 1335.05,452.1 1336.30,445.3 1337.55,450.9 1338.80,449.4 1340.05,445.4 1341.30,449.4 1342.55,445.6 1343.80,447.4 1345.05,444.9 1346.30,450.2 1347.55,445.5 1348.80,449.5 1350.05,445.6 1351.30,449.2 1352.55,444.3 1353.80,449.0 1355.05,446.1 1356.30,445.9 1357.55,450.6 1358.80,448.6 1360.05,445.5 1361.30,448.4 1362.55,444.8 1363.80,448.9 1365.05,444.6 1366.30,450.2 1367.55,445.7 1368.80,450.6 1370.05,445.6 1371.30,449.7 1372.55,445.2 1373.80,448.1 1375.05,444.4 1376.30,449.8 1377.55,444.9 1378.80,449.7 1380.05,444.9 1381.30,447.2 1382.55,449.3 1383.80,449.2 1385.05,444.8 1386.30,449.6 1387.55,445.2 1388.80,449.5 1390.05,446.2 1391.30,449.1 1392.55,448.0 1393.80,445.2 1395.05,448.9 1396.30,448.7 1397.55,449.9 1398.80,445.1 1400.05,450.8 1401.30,447.6 1402.55,444.0" fill="none" stroke="#000" stroke-width="0.95" stroke-linejoin="miter" stroke-miterlimit="2"/>
<polyline points="881.30,443.8 882.55,450.0 883.80,444.4 885.05,450.2 886.30,444.3 887.55,450.7 888.80,445.2 890.05,448.5 891.30,450.7 892.55,446.6 893.80,448.3 895.05,446.2 896.30,450.8 897.55,444.7 898.80,449.2 900.05,445.0 901.30,450.2 902.55,444.5 903.80,448.9 905.05,444.8 906.30,448.0 907.55,444.4 908.80,449.9 910.05,445.1 911.30,451.7 912.55,446.1 913.80,444.4 915.05,448.4 916.30,444.5 917.55,453.4 918.80,443.6 920.05,449.2 921.30,444.2 922.55,449.6 923.80,448.1 925.05,445.3 926.30,448.5 927.55,444.4 928.80,449.5 930.05,445.1 931.30,450.2 932.55,444.8 933.80,450.9 935.05,443.9 936.30,448.8 937.55,443.5 938.80,449.5 940.05,445.0 941.30,448.4 942.55,445.7 943.80,449.7 945.05,443.1 946.30,450.1 947.55,447.0 948.80,450.5 950.05,444.2 951.30,450.1 952.55,443.5 953.80,450.7 955.05,445.0 956.30,450.2 957.55,444.3 958.80,449.6 960.05,449.7 961.30,443.7 962.55,448.9 963.80,444.2 965.05,449.1 966.30,444.6 967.55,444.5 968.80,449.8 970.05,445.5 971.30,448.7 972.55,444.7 973.80,445.3 975.05,450.7 976.30,449.0 977.55,444.1 978.80,448.6 980.05,445.0 981.30,450.9 982.55,444.9 983.80,445.5 985.05,448.3 986.30,445.7 987.55,448.8 988.80,445.5 990.05,450.8 991.30,445.3 992.55,444.6 993.80,449.3 995.05,444.8 996.30,442.1 997.55,450.4 998.80,445.1 1000.05,449.9 1001.30,445.8 1002.55,450.8 1003.80,445.9 1005.05,445.0 1006.30,449.4 1007.55,445.9 1008.80,449.7 1010.05,450.0 1011.30,444.8 1012.55,450.3 1013.80,445.9 1015.05,450.1 1016.30,445.3 1017.55,448.5 1018.80,444.8 1020.05,450.2 1021.30,451.0 1022.55,445.0 1023.80,445.8 1025.05,450.2 1026.30,445.7 1027.55,448.8 1028.80,444.8 1030.05,450.7 1031.30,450.9 1032.55,446.7 1033.80,449.5 1035.05,444.4 1036.30,444.5 1037.55,450.4 1038.80,443.1 1040.05,449.9 1041.30,445.8 1042.55,450.0 1043.80,448.4 1045.05,444.4 1046.30,450.8 1047.55,451.0 1048.80,445.9 1050.05,448.6 1051.30,445.3 1052.55,444.1 1053.80,448.3 1055.05,449.4 1056.30,451.7 1057.55,446.6 1058.80,449.6 1060.05,450.0 1061.30,446.1 1062.55,448.3 1063.80,444.2 1065.05,449.4 1066.30,449.7 1067.55,450.2 1068.80,444.2 1070.05,444.1 1071.30,448.6 1072.55,446.2 1073.80,450.6 1075.05,444.1 1076.30,449.3 1077.55,444.1 1078.80,443.7 1080.05,449.3 1081.30,444.0 1082.55,451.4 1083.80,444.3 1085.05,450.1 1086.30,450.8 1087.55,445.4 1088.80,448.7 1090.05,449.4 1091.30,444.1 1092.55,450.3 1093.80,443.4 1095.05,449.7 1096.30,444.3 1097.55,444.6 1098.80,450.0 1100.05,444.0 1101.30,451.2 1102.55,446.0 1103.80,450.6 1105.05,449.8 1106.30,449.9 1107.55,445.9 1108.80,450.6 1110.00,446.5 1111.30,443.1 1112.90,435.4 1113.80,441.8 1115.00,447.8 1116.30,444.5 1117.55,448.9 1118.80,444.2 1120.05,448.5 1121.30,446.0 1122.55,449.7 1123.80,445.4 1125.05,450.1 1126.30,444.7 1127.55,450.0 1128.80,445.0 1130.05,450.3 1131.30,448.1 1132.55,443.6 1133.80,449.2 1135.05,445.3 1136.30,449.1 1137.55,448.9 1138.80,444.3 1140.05,447.6 1141.30,445.2 1142.55,449.4 1143.80,444.7 1145.05,449.0 1146.30,444.4 1147.55,450.6 1148.80,443.9 1150.05,451.1 1151.30,446.2 1152.55,442.1 1153.80,450.1 1155.05,444.9 1156.30,450.5 1157.55,444.6 1158.80,448.7 1160.05,445.5 1161.30,444.9 1162.55,449.6 1163.80,444.3 1165.05,449.9 1166.30,445.9 1167.55,448.6 1168.80,444.4 1170.05,449.4 1171.30,445.6 1172.55,445.4 1173.80,450.6 1175.05,446.4 1176.30,450.5 1177.55,445.7 1178.80,450.2 1180.05,446.8 1181.30,449.1 1182.00,446.5 1182.55,445.2 1184.00,436.4 1185.05,443.2 1186.00,447.0 1187.55,448.8 1188.80,445.6 1190.05,449.4 1191.30,444.9 1192.55,450.1 1193.80,444.3 1195.05,448.5 1196.30,449.1 1197.55,445.1 1198.80,450.9 1200.05,450.5 1201.30,445.6 1202.55,449.5 1203.80,446.5 1205.05,449.7 1206.30,444.2 1207.55,449.6 1208.80,444.5 1210.05,445.0 1211.30,450.3 1212.55,444.0 1213.80,450.1 1215.05,444.7 1216.30,449.4 1217.55,450.5 1218.80,446.0 1220.05,450.8 1221.30,449.5 1222.55,449.4 1223.80,445.3 1225.05,448.7 1226.30,445.2 1227.55,444.9 1228.80,450.6 1230.05,445.5 1231.30,447.9 1232.55,445.7 1233.80,449.9 1235.05,442.8 1236.30,449.2 1237.55,444.5 1238.80,449.3 1240.05,445.5 1241.30,444.4 1242.55,450.2 1243.80,446.0 1245.05,448.8 1246.30,450.5 1247.55,443.8 1248.80,450.5 1250.05,444.6 1251.30,448.5 1252.55,444.4 1253.80,448.1 1255.05,445.0 1256.30,444.1 1257.55,449.9 1258.80,445.8 1260.05,449.8 1261.30,444.4 1262.55,449.4 1263.80,444.5 1265.05,449.8 1266.30,443.7 1267.55,450.0 1268.80,445.2 1270.05,450.1 1271.30,444.7 1272.55,449.3 1273.80,446.1 1275.05,450.7 1276.30,442.8 1277.55,448.8 1278.80,445.0 1280.05,448.8 1281.30,444.7 1282.55,450.7 1283.80,450.4 1285.05,446.2 1286.30,448.8 1287.55,450.7 1288.80,444.9 1290.05,450.2 1291.30,449.8 1292.55,449.6 1293.80,445.8 1295.05,452.0 1296.30,445.4 1297.55,449.3 1298.80,444.9 1300.05,450.0 1301.30,445.9 1302.55,449.9 1303.80,443.4 1305.05,449.8 1306.30,445.4 1307.55,450.9 1308.80,445.3 1310.05,449.9 1311.30,444.0 1312.55,447.9 1313.80,444.8 1315.05,448.7 1316.30,448.0 1317.55,443.0 1318.80,449.7 1320.05,449.6 1321.30,444.7 1322.55,451.8 1323.80,445.4 1325.05,450.5 1326.30,445.3 1327.55,449.9 1328.80,444.9 1330.05,449.8 1331.30,449.7 1332.55,446.2 1333.80,450.5 1335.05,443.8 1336.30,450.5 1337.55,444.1 1338.80,450.4 1340.05,444.9 1341.30,448.8 1342.55,445.1 1343.80,450.6 1345.05,444.4 1346.30,449.1 1347.55,444.6 1348.80,450.2 1350.05,443.8 1351.30,449.1 1352.55,450.6 1353.80,449.9 1355.05,445.4 1356.30,450.5 1357.55,448.1 1358.80,444.8 1360.05,450.7 1361.30,445.5 1362.55,450.9 1363.80,445.8 1365.05,448.6 1366.30,444.9 1367.55,449.0 1368.80,445.6 1370.05,450.0 1371.30,444.6 1372.55,450.4 1373.80,445.8 1375.05,444.8 1376.30,448.5 1377.55,445.1 1378.80,449.1 1380.05,445.8 1381.30,449.6 1382.55,445.9 1383.80,450.6 1385.05,446.4 1386.30,449.2 1387.55,445.1 1388.80,449.2 1390.05,445.2 1391.30,448.4 1392.55,444.4 1393.80,443.7 1395.05,448.6 1396.30,444.2 1397.55,448.7 1398.80,449.9 1400.05,445.4 1401.30,450.4 1402.55,450.7" fill="none" stroke="#00ff00" stroke-width="0.95" stroke-linejoin="miter" stroke-miterlimit="2"/>
<polyline points="881.30,443.6 882.55,449.3 883.80,444.9 885.05,453.3 886.30,446.4 887.55,449.8 888.80,443.9 890.05,450.0 891.30,445.1 892.55,449.5 893.80,444.7 895.05,450.9 896.30,444.3 897.55,449.6 898.80,451.2 900.05,443.4 901.30,451.4 902.55,445.1 903.80,448.6 905.05,445.7 906.30,452.5 907.55,444.2 908.80,444.1 910.05,451.3 911.30,444.2 912.55,450.5 913.80,446.0 915.05,448.8 916.30,444.9 917.55,450.5 918.80,443.2 920.05,444.9 921.30,445.7 922.55,448.0 923.80,450.4 925.05,445.8 926.30,445.2 927.55,448.5 928.80,444.8 930.05,449.7 931.30,445.9 932.55,451.3 933.80,444.6 935.05,445.7 936.30,449.2 937.55,444.8 938.80,449.3 940.05,445.0 941.30,444.8 942.55,449.4 943.80,443.5 945.05,445.7 946.30,451.7 947.55,445.1 948.80,450.9 950.05,449.2 951.30,443.9 952.55,448.0 953.80,444.3 955.05,450.0 956.30,445.2 957.55,450.7 958.80,443.6 960.05,444.9 961.30,450.1 962.55,446.5 963.80,449.8 965.05,444.7 966.30,449.1 967.55,444.9 968.80,448.4 970.05,445.0 971.30,450.0 972.55,445.4 973.80,449.9 975.05,444.5 976.30,450.6 977.55,445.0 978.80,450.1 980.05,449.2 981.30,445.2 982.55,448.3 983.80,450.9 985.05,449.1 986.30,444.4 987.55,443.7 988.80,448.5 990.05,445.0 991.30,450.2 992.55,443.4 993.80,450.4 995.05,446.6 996.30,449.6 997.55,444.7 998.80,449.4 1000.05,450.1 1001.30,445.1 1002.55,448.6 1003.80,449.5 1005.05,445.7 1006.30,449.0 1007.55,443.9 1008.80,450.0 1010.05,445.4 1011.30,449.2 1012.55,445.4 1013.80,451.0 1015.05,450.9 1016.30,443.5 1017.55,450.3 1018.80,443.9 1020.05,448.3 1021.30,443.6 1022.55,449.9 1023.80,449.9 1025.05,445.1 1026.30,452.7 1027.55,444.6 1028.80,448.8 1030.05,444.6 1031.30,450.5 1032.55,444.3 1033.80,448.8 1035.05,446.1 1036.30,450.9 1037.55,445.6 1038.80,440.8 1040.05,449.7 1041.30,443.9 1042.55,449.2 1043.80,448.2 1045.05,445.7 1046.30,449.5 1047.55,444.4 1048.80,449.3 1050.05,444.0 1051.30,448.8 1052.55,445.5 1053.80,453.2 1055.05,446.0 1056.30,449.4 1057.55,444.1 1058.80,450.2 1060.05,448.5 1061.30,445.8 1062.55,449.6 1063.80,448.7 1065.05,444.4 1066.30,449.8 1067.55,445.4 1068.80,449.7 1070.05,449.3 1071.30,444.5 1072.55,449.0 1073.80,443.8 1075.05,448.9 1076.30,445.0 1077.55,448.5 1078.80,442.1 1080.00,447.5 1081.30,429.7 1082.60,412.7 1083.80,434.3 1084.50,447.5 1085.05,445.7 1086.30,450.3 1087.55,446.1 1088.80,449.2 1090.05,441.5 1091.30,450.3 1092.55,449.9 1093.80,442.8 1095.05,449.9 1096.30,445.7 1097.55,451.2 1098.80,444.7 1100.05,452.6 1101.30,450.5 1102.55,445.1 1103.80,448.9 1105.05,445.7 1106.30,449.0 1107.55,446.3 1108.80,450.0 1110.05,443.9 1111.30,448.4 1112.55,444.4 1113.80,444.1 1115.05,450.7 1116.30,444.7 1117.55,448.9 1118.80,450.5 1120.05,444.4 1121.30,448.1 1122.55,444.9 1123.80,450.4 1125.05,445.1 1126.30,450.8 1127.55,445.7 1128.80,450.5 1130.05,445.9 1131.30,446.0 1132.55,450.3 1133.80,444.3 1135.05,449.9 1136.30,445.8 1137.55,449.4 1138.80,444.6 1140.05,449.5 1141.30,444.3 1142.55,450.9 1143.80,444.7 1145.05,448.4 1146.30,442.6 1147.55,450.7 1148.80,448.7 1150.05,443.4 1151.30,450.9 1152.55,444.5 1153.80,450.9 1155.05,444.4 1156.30,450.5 1157.55,445.1 1158.80,448.9 1160.05,444.5 1161.30,450.0 1162.55,445.1 1163.80,448.7 1165.05,449.9 1166.30,443.7 1167.55,449.5 1168.80,446.2 1170.05,448.8 1171.30,450.5 1172.55,444.7 1173.80,449.1 1175.05,445.3 1176.30,449.3 1177.55,446.3 1178.80,450.8 1180.05,443.4 1181.30,443.9 1182.00,446.9 1182.55,443.6 1184.00,436.3 1185.05,440.9 1186.00,447.9 1187.55,444.3 1188.80,449.8 1190.05,444.8 1191.30,449.1 1192.55,440.8 1193.80,448.7 1195.05,443.6 1196.30,445.0 1197.55,444.6 1198.80,450.4 1200.05,445.2 1201.30,452.0 1202.55,444.8 1203.80,449.9 1205.05,445.9 1206.30,449.3 1207.55,443.6 1208.80,449.3 1210.05,451.2 1211.30,445.0 1212.55,449.8 1213.80,444.8 1215.05,449.8 1216.30,450.3 1217.55,444.3 1218.80,451.8 1220.05,444.0 1221.30,450.2 1222.55,444.8 1223.80,449.8 1225.05,443.7 1226.30,449.6 1227.55,445.8 1228.80,448.9 1230.05,443.9 1231.30,450.4 1232.55,446.6 1233.80,448.9 1235.05,444.4 1236.30,450.1 1237.55,443.9 1238.80,446.0 1240.05,449.8 1241.30,450.1 1242.55,444.5 1243.80,448.6 1245.05,445.3 1246.30,449.4 1247.55,444.0 1248.80,448.6 1250.05,450.8 1251.30,444.2 1252.55,444.8 1253.80,450.3 1255.05,444.7 1256.30,446.0 1257.55,450.6 1258.80,444.1 1260.05,448.6 1261.30,444.9 1262.55,449.0 1263.80,449.6 1265.05,443.0 1266.30,449.8 1267.55,445.5 1268.80,452.1 1270.05,445.5 1271.30,450.8 1272.55,444.8 1273.80,448.5 1275.05,443.8 1276.30,449.4 1277.55,449.6 1278.80,443.2 1280.05,448.6 1281.30,444.3 1282.55,445.4 1283.80,449.2 1285.05,445.0 1286.30,449.8 1287.55,445.1 1288.80,448.8 1290.05,444.4 1291.30,449.3 1292.55,445.0 1293.80,450.4 1295.05,445.4 1296.30,449.0 1297.55,444.8 1298.80,451.1 1300.05,444.5 1301.30,450.6 1302.55,446.2 1303.80,444.8 1305.05,450.1 1306.30,449.0 1307.55,441.8 1308.80,449.7 1310.05,446.0 1311.30,449.0 1312.55,445.3 1313.80,450.4 1315.05,449.5 1316.30,444.4 1317.55,451.2 1318.80,444.7 1320.05,450.1 1321.30,450.5 1322.55,445.8 1323.80,450.5 1325.05,449.7 1326.30,446.3 1327.55,450.2 1328.80,444.8 1330.05,449.9 1331.30,444.7 1332.55,451.1 1333.80,444.3 1335.05,450.7 1336.30,446.7 1337.55,444.9 1338.80,449.3 1340.05,444.9 1341.30,452.7 1342.55,449.6 1343.80,450.8 1345.05,444.7 1346.30,449.9 1347.55,443.6 1348.80,444.7 1350.05,449.0 1351.30,445.1 1352.55,449.0 1353.80,449.5 1355.05,443.9 1356.30,451.6 1357.55,445.4 1358.80,448.9 1360.05,450.9 1361.30,445.1 1362.55,450.1 1363.80,445.5 1365.05,449.5 1366.30,445.4 1367.55,448.8 1368.80,446.0 1370.05,448.7 1371.30,445.8 1372.55,450.5 1373.80,444.7 1375.05,448.9 1376.30,444.8 1377.55,444.7 1378.80,449.6 1380.05,443.9 1381.30,448.6 1382.55,449.9 1383.80,443.3 1385.05,449.4 1386.30,444.1 1387.55,450.7 1388.80,444.8 1390.05,449.4 1391.30,445.9 1392.55,448.7 1393.80,444.9 1395.05,451.1 1396.30,445.3 1397.55,450.3 1398.80,443.1 1400.05,449.7 1401.30,443.5 1402.55,450.6" fill="none" stroke="#00ffff" stroke-width="0.95" stroke-linejoin="miter" stroke-miterlimit="2"/>
<polyline points="458.50,1085.9 459.75,1092.8 461.00,1093.0 462.25,1091.7 463.50,1086.9 464.75,1092.4 466.00,1086.1 467.25,1090.0 468.50,1084.6 469.75,1090.1 471.00,1086.3 472.25,1091.2 473.50,1087.3 474.75,1088.8 476.00,1090.4 477.25,1082.7 478.50,1090.4 479.75,1083.3 481.00,1090.7 482.25,1085.3 483.50,1092.7 484.75,1084.6 486.00,1090.4 487.25,1083.2 488.50,1090.3 489.75,1091.5 491.00,1082.7 492.25,1090.3 493.50,1084.4 494.75,1093.9 496.00,1082.7 497.25,1083.4 498.50,1089.8 499.75,1088.9 501.00,1084.3 502.25,1091.2 503.50,1083.7 504.75,1091.7 506.00,1088.6 507.25,1092.3 508.50,1082.4 509.75,1090.2 511.00,1084.7 512.25,1084.4 513.50,1090.1 514.75,1081.3 516.00,1090.9 517.25,1083.4 518.50,1092.0 519.75,1082.6 521.00,1088.8 522.25,1083.9 523.50,1089.2 524.75,1083.0 526.00,1090.4 527.25,1083.3 528.50,1091.0 530.00,1084.1 531.00,1091.2 532.25,1084.0 533.50,1088.3 534.75,1082.2 536.00,1081.2 537.25,1090.2 538.50,1080.7 540.00,1086.9 541.00,1081.0 542.25,1092.6 543.50,1082.1 544.75,1081.4 546.00,1088.4 547.25,1081.5 548.50,1089.5 549.75,1081.0 551.00,1089.9 552.25,1077.2 553.50,1087.7 554.75,1088.0 556.00,1089.9 557.25,1081.1 558.50,1088.5 559.75,1081.5 561.00,1087.6 562.25,1083.7 563.50,1089.8 564.75,1082.0 566.00,1088.2 567.25,1081.3 568.50,1091.1 569.75,1080.5 571.00,1089.0 572.25,1083.2 573.50,1090.0 574.75,1087.9 576.00,1080.3 577.25,1090.2 578.50,1083.1 580.00,1086.2 581.00,1089.4 582.25,1082.9 583.50,1084.6 584.75,1090.4 586.00,1082.6 587.25,1090.1 588.50,1084.9 589.75,1091.1 591.00,1085.3 592.25,1089.5 593.50,1084.6 594.75,1089.5 596.00,1083.9 597.25,1092.5 598.50,1090.9 600.00,1087.7 601.00,1097.0 602.25,1082.6 603.50,1089.1 604.75,1086.9 606.00,1092.1 607.25,1085.0 608.50,1092.7 609.75,1085.1 611.00,1092.5 612.25,1083.8 613.50,1090.2 614.75,1092.3 616.00,1085.5 617.25,1090.8 618.50,1085.1 619.75,1091.9 621.00,1085.8 622.25,1094.1 623.50,1085.0 624.75,1090.2 626.00,1084.9 627.25,1089.6 628.50,1084.3 629.75,1083.7 631.00,1092.3 632.25,1085.0 633.50,1092.9 634.75,1084.1 636.00,1093.0 637.25,1085.3 638.50,1093.1 639.75,1094.2 641.00,1086.0 642.25,1092.6 643.50,1091.1 644.75,1085.1 646.00,1083.5 647.25,1091.9 648.50,1083.9 649.75,1084.4 651.00,1091.4 652.25,1083.6 653.50,1092.0 654.75,1086.1 656.00,1093.6 657.25,1082.6 658.50,1091.3 659.75,1085.1 661.00,1093.4 662.25,1083.5 663.50,1091.3 664.75,1083.8 666.00,1085.8 667.25,1090.3 668.50,1085.1 669.75,1086.1 671.00,1091.0 672.25,1089.8 673.50,1084.7 674.75,1091.4 676.00,1085.8 677.25,1093.1 678.50,1092.1 679.75,1084.6 681.00,1093.4 682.25,1085.7 683.50,1094.3 684.75,1091.0 686.00,1087.7 687.40,1099.3 689.00,1087.6 689.75,1095.3 691.00,1086.0 692.25,1097.6 693.50,1086.4 694.75,1092.7 696.00,1081.1 697.25,1090.0 698.50,1085.1 700.00,1089.3 701.00,1086.6 702.25,1094.1 703.50,1086.0 704.75,1093.3 706.00,1087.1 707.25,1092.3 708.50,1086.7 709.75,1095.4 711.00,1089.3 712.25,1093.9 713.50,1086.7 714.75,1095.3 716.00,1095.1 717.25,1091.3 719.00,1095.1 719.75,1088.6 721.00,1098.0 722.25,1091.8 723.50,1098.0 724.75,1090.8 726.00,1095.6 727.25,1097.9 728.50,1091.5 729.75,1099.4 731.00,1090.2 732.25,1101.0 733.50,1092.1 734.75,1090.7 736.00,1101.9 737.25,1093.4 738.50,1099.9 740.00,1095.5 741.00,1099.7 742.25,1098.7 743.50,1092.4 744.75,1100.4 746.00,1091.6 747.25,1100.3 748.50,1089.4 749.75,1098.8 751.00,1089.8 752.25,1096.3 753.50,1091.1 754.75,1094.1 756.00,1095.5 757.25,1100.3 758.00,1091.2 759.75,1094.4 761.00,1088.1 762.25,1095.2 763.50,1087.4 764.75,1095.0 766.00,1085.8 767.25,1084.2 768.50,1090.2 770.00,1089.8 771.00,1086.2 772.25,1091.0 773.50,1086.0 774.75,1092.1 776.00,1084.8 777.25,1090.9 778.50,1090.0 779.75,1085.5 781.00,1090.6 782.25,1087.8 783.50,1093.4 784.75,1086.6 786.00,1083.9 787.25,1091.0 788.50,1084.4 789.75,1092.6 791.00,1084.8 792.25,1091.5 793.50,1084.5 794.75,1085.8 796.00,1091.4 797.25,1093.3 798.50,1086.8 799.75,1091.2 801.00,1085.9 802.25,1086.4 803.50,1089.8 804.75,1084.0 806.00,1086.5 807.25,1094.3 808.50,1084.2 809.75,1091.6 811.00,1084.3 812.25,1091.3 813.50,1092.7 814.75,1093.9 816.00,1086.7 817.00,1087.0 818.50,1084.0 819.20,1078.5 819.75,1063.3 821.00,1028.5 822.25,998.0 823.30,972.6 825.00,990.0 826.00,1030.0 827.10,1052.0 828.50,1049.7 830.00,1043.5 831.00,1044.2 832.25,1037.9 833.00,1033.0 834.75,1037.5 836.00,1045.6 837.25,1053.7 839.00,1068.3 839.75,1071.6 841.00,1080.8 842.25,1080.4 843.90,1087.1 844.75,1090.2 846.00,1090.3 847.25,1082.7 848.50,1089.0 849.75,1081.6 851.00,1094.3 852.25,1082.6 853.50,1092.1 854.75,1084.1 856.00,1084.1 857.25,1091.7 858.50,1082.1 859.75,1089.9 861.00,1079.5 862.25,1089.4 863.50,1083.1 864.75,1088.6 866.00,1082.4 867.25,1090.8 868.50,1082.3 869.75,1082.7 871.00,1089.9 872.25,1088.4 873.50,1085.0 874.75,1090.8 876.00,1081.5 877.25,1089.5 878.50,1084.2 879.75,1094.0 881.00,1083.7 882.25,1088.7 883.50,1082.9 884.75,1091.4 886.00,1091.6 887.25,1083.5 888.50,1090.2 889.75,1082.6 891.00,1090.1 892.25,1082.6 893.50,1089.5 894.75,1083.8 896.00,1092.3 897.25,1082.8 898.50,1090.8 899.75,1079.6 901.00,1090.4 902.25,1084.8 903.50,1088.7 904.75,1083.1 906.00,1092.0 907.25,1085.1 908.50,1090.5 909.75,1084.5 911.00,1089.6 912.25,1082.2 913.50,1091.1 914.75,1083.8 916.00,1092.6 917.25,1085.4 918.50,1090.3 919.75,1084.0 921.00,1090.6 922.25,1083.6 923.50,1090.7 924.75,1083.6 926.00,1093.1 927.25,1086.3 928.50,1080.5 929.75,1090.7 931.00,1084.9 932.25,1090.0 933.50,1086.0 934.75,1088.5 936.00,1083.9 937.25,1091.3 938.50,1084.5 939.75,1089.9 941.00,1090.3 942.25,1082.6 943.50,1090.4 944.75,1083.8 946.00,1092.7 947.25,1089.5 948.50,1085.0 949.75,1090.3 951.00,1087.0 952.25,1092.6 953.50,1084.7 954.75,1090.2 956.00,1084.3 957.25,1093.0 958.50,1085.1 959.75,1083.9 961.00,1092.1 962.25,1085.3 963.50,1094.5 964.75,1093.6 966.00,1085.7 967.25,1084.2 968.50,1092.5 969.75,1085.1 971.00,1091.5 972.25,1083.1 973.50,1089.7 974.75,1093.0 976.00,1085.2 977.25,1092.5 978.50,1084.7 979.75,1091.7" fill="none" stroke="#ff0000" stroke-width="0.95" stroke-linejoin="miter" stroke-miterlimit="2"/>
<polyline points="458.50,1085.5 459.75,1094.6 461.00,1085.8 462.25,1091.1 463.50,1086.0 464.75,1092.6 466.00,1085.4 467.25,1091.8 468.50,1085.4 469.75,1091.1 471.00,1087.6 472.25,1095.1 473.50,1084.8 474.75,1084.8 476.00,1093.6 477.25,1085.6 478.50,1092.1 479.75,1086.4 481.00,1092.4 482.25,1084.1 483.50,1089.3 484.75,1093.0 486.00,1086.5 487.25,1091.8 488.50,1080.1 489.75,1092.4 491.00,1084.9 492.25,1094.8 493.50,1085.8 494.75,1092.2 496.00,1086.1 497.25,1095.0 498.50,1085.7 499.75,1091.8 501.00,1085.6 502.25,1091.9 503.50,1082.1 504.75,1094.4 506.00,1090.2 507.25,1084.2 508.50,1092.6 509.75,1085.8 511.00,1093.6 512.25,1084.5 513.50,1090.5 514.75,1086.2 516.00,1091.7 517.25,1084.3 518.50,1091.3 519.75,1090.2 521.00,1084.0 522.25,1093.1 523.50,1086.1 524.75,1092.6 526.00,1088.3 527.25,1091.6 528.50,1086.7 529.75,1091.2 531.00,1082.5 532.25,1094.3 533.50,1086.2 534.75,1091.7 536.00,1089.4 537.25,1084.7 538.50,1092.8 539.75,1085.7 541.00,1085.8 542.25,1091.9 543.50,1085.7 544.75,1090.4 546.00,1083.7 547.25,1093.0 548.50,1091.5 549.75,1083.6 551.00,1092.3 552.25,1091.1 553.50,1085.1 554.75,1092.6 556.00,1080.2 557.25,1092.9 558.50,1086.5 559.75,1092.7 561.00,1087.8 562.25,1092.2 563.50,1080.3 564.75,1093.8 566.00,1085.8 567.25,1090.3 568.50,1087.1 569.75,1092.9 571.00,1085.0 572.25,1091.5 573.50,1089.9 574.75,1087.1 576.00,1092.7 577.25,1083.2 578.50,1091.1 579.75,1091.1 581.00,1083.9 582.25,1090.9 583.50,1085.2 584.75,1085.0 586.00,1091.4 587.25,1086.7 588.50,1092.2 589.75,1087.1 591.00,1085.9 592.25,1093.5 593.50,1085.6 594.75,1093.6 596.00,1085.2 597.25,1092.9 598.50,1086.1 599.75,1090.2 601.00,1083.5 602.25,1085.0 603.50,1091.8 604.75,1086.7 606.00,1093.0 607.25,1085.2 608.50,1092.3 609.75,1094.4 611.00,1086.1 612.25,1092.2 613.50,1084.2 614.75,1090.3 616.00,1085.9 617.25,1092.3 618.50,1085.7 619.75,1093.2 621.00,1086.7 622.25,1094.1 623.50,1084.7 624.75,1092.8 626.00,1084.6 627.25,1092.3 628.50,1084.5 629.75,1094.0 631.00,1081.8 632.25,1090.9 633.50,1083.3 634.75,1092.3 636.00,1085.1 637.25,1092.0 638.50,1083.0 639.75,1092.5 641.00,1091.1 642.25,1084.5 643.50,1092.1 644.75,1086.5 646.00,1089.8 647.25,1086.5 648.50,1090.7 649.75,1092.7 651.00,1084.5 652.25,1094.3 653.50,1085.6 654.75,1092.0 656.00,1085.6 657.25,1092.5 658.50,1085.4 659.75,1093.8 661.00,1084.4 662.25,1089.7 663.50,1084.6 664.75,1092.1 666.00,1084.5 667.25,1085.6 668.50,1092.8 669.75,1091.0 671.00,1084.8 672.25,1083.7 673.50,1091.0 674.75,1082.6 676.00,1096.1 677.25,1085.3 678.50,1091.8 679.75,1081.0 681.00,1093.3 682.25,1083.8 683.50,1091.1 684.75,1097.0 686.00,1083.1 687.25,1091.4 688.50,1084.1 689.75,1093.2 691.00,1084.6 692.25,1092.2 693.50,1083.5 694.75,1090.3 696.00,1086.6 697.25,1091.2 698.50,1083.9 699.75,1092.5 701.00,1084.2 702.25,1092.0 703.50,1089.8 704.75,1086.5 706.00,1091.1 707.25,1084.5 708.50,1092.6 709.75,1082.9 711.00,1093.4 712.25,1085.0 713.50,1090.7 714.75,1083.9 716.00,1093.7 717.25,1086.9 718.50,1084.7 719.75,1092.4 721.00,1084.0 722.25,1092.6 723.50,1085.8 724.75,1093.4 726.00,1091.7 727.25,1086.2 728.50,1093.8 729.75,1080.2 731.00,1094.1 732.25,1085.3 733.50,1093.2 734.75,1084.0 736.00,1089.8 737.25,1086.2 738.50,1091.2 739.75,1085.7 741.00,1093.7 742.25,1084.5 743.50,1094.7 744.75,1085.9 746.00,1091.0 747.25,1085.4 748.50,1089.5 749.75,1082.6 751.00,1086.3 752.25,1093.5 753.50,1083.5 754.75,1091.8 756.00,1083.0 757.25,1093.0 758.00,1087.9 759.60,1063.6 760.90,1017.7 762.00,1026.0 763.00,1058.5 764.20,1088.6 764.75,1083.9 766.00,1095.5 767.25,1086.9 768.50,1091.9 769.75,1084.4 771.00,1092.9 772.25,1085.7 773.50,1092.2 774.75,1091.4 776.00,1092.5 777.25,1086.3 778.50,1090.7 779.75,1084.0 781.00,1092.9 782.25,1085.1 783.50,1093.3 784.75,1084.8 786.00,1093.5 787.25,1083.7 788.50,1095.2 789.75,1086.2 791.00,1093.1 792.25,1086.1 793.50,1094.2 794.75,1080.5 796.00,1090.7 797.25,1086.9 798.50,1082.7 799.75,1092.6 801.00,1092.0 802.25,1085.0 803.50,1092.5 804.75,1085.9 806.00,1092.6 807.25,1083.7 808.50,1091.3 809.75,1086.7 811.00,1092.0 812.25,1084.8 813.50,1094.3 814.75,1093.6 816.00,1086.4 817.25,1091.7 818.50,1080.5 819.75,1090.0 821.00,1084.6 822.25,1091.7 823.50,1085.9 824.75,1091.3 826.00,1084.6 827.25,1083.3 828.50,1093.0 829.75,1092.9 831.00,1080.2 832.25,1085.4 833.50,1092.0 834.75,1085.5 836.00,1085.7 837.25,1091.2 838.50,1085.6 839.75,1084.0 841.00,1092.2 842.25,1086.0 843.50,1091.8 844.75,1085.7 846.00,1093.7 847.25,1084.7 848.50,1091.3 849.75,1084.9 851.00,1093.5 852.25,1081.3 853.50,1093.5 854.75,1083.9 856.00,1089.9 857.25,1081.0 858.50,1093.9 859.75,1083.9 861.00,1085.8 862.25,1093.2 863.50,1082.4 864.75,1092.6 866.00,1087.2 867.25,1092.9 868.50,1084.3 869.75,1092.8 871.00,1084.3 872.25,1095.3 873.50,1093.8 874.75,1084.6 876.00,1093.8 877.25,1079.5 878.50,1091.6 879.75,1083.1 881.00,1094.0 882.25,1087.7 883.50,1093.0 884.75,1086.9 886.00,1091.5 887.25,1083.9 888.50,1082.9 889.75,1093.5 891.00,1085.3 892.25,1090.9 893.50,1083.7 894.75,1092.6 896.00,1085.6 897.25,1090.0 898.50,1087.1 899.75,1093.5 901.00,1085.4 902.25,1091.3 903.50,1083.4 904.75,1092.1 906.00,1085.7 907.25,1093.7 908.50,1084.8 909.75,1082.4 911.00,1092.7 912.25,1084.1 913.50,1091.9 914.75,1086.3 916.00,1092.2 917.25,1085.0 918.50,1092.0 919.75,1086.7 921.00,1083.5 922.25,1092.1 923.50,1092.8 924.75,1084.2 926.00,1091.5 927.25,1083.1 928.50,1093.9 929.75,1083.4 931.00,1091.5 932.25,1084.6 933.50,1091.6 934.75,1086.9 936.00,1089.8 937.25,1084.9 938.50,1091.8 939.75,1086.2 941.00,1091.7 942.25,1092.4 943.50,1085.3 944.75,1091.1 946.00,1086.8 947.25,1093.1 948.50,1086.7 949.75,1094.0 951.00,1087.2 952.25,1093.5 953.50,1085.3 954.75,1091.2 956.00,1084.0 957.25,1091.5 958.50,1085.5 959.75,1093.1 961.00,1083.4 962.25,1094.0 963.50,1085.9 964.75,1090.2 966.00,1080.4 967.25,1090.8 968.50,1089.7 969.75,1085.0 971.00,1090.3 972.25,1086.6 973.50,1092.2 974.75,1085.1 976.00,1092.4 977.25,1084.6 978.50,1090.7 979.75,1084.0" fill="none" stroke="#0000ff" stroke-width="0.95" stroke-linejoin="miter" stroke-miterlimit="2"/>
<polyline points="458.50,1084.7 459.75,1091.9 461.00,1086.0 462.25,1090.6 463.50,1087.0 464.75,1091.0 466.00,1089.7 467.25,1085.2 468.50,1090.8 469.75,1085.6 471.00,1089.0 472.25,1085.7 473.50,1090.6 474.75,1090.5 476.00,1086.7 477.25,1086.3 478.50,1089.4 479.75,1086.8 481.00,1090.5 482.25,1085.3 483.50,1091.7 484.75,1085.0 486.00,1092.5 487.25,1091.7 488.50,1085.4 489.75,1092.6 491.00,1086.2 492.25,1090.3 493.50,1086.6 494.75,1090.2 496.00,1087.0 497.25,1092.1 498.50,1087.6 499.75,1089.8 501.00,1086.8 502.25,1089.7 503.50,1085.9 504.75,1093.3 506.00,1084.6 507.25,1090.3 508.50,1085.0 509.75,1090.9 511.00,1085.9 512.25,1089.3 513.50,1089.9 514.75,1084.8 516.00,1090.7 517.25,1085.4 518.50,1091.2 519.75,1086.3 521.00,1092.8 522.25,1092.5 523.50,1087.6 524.75,1089.5 526.00,1087.7 527.25,1090.9 528.50,1084.6 529.75,1090.4 531.00,1086.2 532.25,1091.2 533.50,1086.2 534.75,1091.3 536.00,1085.5 537.25,1090.2 538.50,1087.4 539.75,1090.4 541.00,1085.3 542.25,1085.9 543.50,1091.3 544.75,1085.8 546.00,1090.8 547.25,1086.7 548.50,1090.4 549.75,1086.2 551.00,1086.8 552.25,1091.8 553.50,1085.9 554.75,1092.1 556.00,1090.7 557.25,1086.2 558.50,1090.9 559.75,1085.4 561.00,1090.3 562.25,1086.3 563.50,1091.5 564.75,1085.7 566.00,1092.0 567.25,1087.0 568.50,1092.7 569.75,1085.8 571.00,1090.1 572.25,1086.3 573.50,1091.2 574.75,1086.1 576.00,1091.6 577.25,1089.6 578.50,1086.4 579.75,1092.1 581.00,1090.3 582.25,1085.0 583.50,1090.4 584.75,1085.3 586.00,1090.5 587.25,1085.2 588.50,1090.6 589.75,1085.2 591.00,1090.3 592.25,1086.0 593.50,1091.0 594.75,1086.2 596.00,1090.9 597.25,1085.9 598.50,1090.2 599.75,1086.5 601.00,1086.1 602.25,1091.1 603.50,1085.5 604.75,1092.2 606.00,1090.8 607.25,1086.7 608.50,1091.2 609.75,1086.1 611.00,1089.2 612.25,1086.4 613.50,1091.8 614.75,1084.6 616.00,1090.8 617.25,1085.9 618.50,1090.9 619.75,1086.8 621.00,1092.3 622.25,1086.7 623.50,1091.6 624.75,1086.3 626.00,1092.5 627.25,1086.9 628.50,1089.9 629.75,1085.6 631.00,1089.7 632.25,1085.8 633.50,1090.2 634.75,1087.6 636.00,1090.8 637.25,1085.6 638.50,1091.1 639.75,1085.5 641.00,1089.6 642.25,1084.4 643.50,1090.3 644.75,1086.4 646.00,1091.3 647.25,1085.7 648.50,1089.6 649.75,1086.3 651.00,1090.3 652.25,1086.3 653.50,1086.1 654.75,1089.7 656.00,1087.3 657.25,1090.3 658.50,1087.7 659.75,1091.5 661.00,1086.8 662.25,1087.0 663.50,1091.8 664.75,1091.1 666.00,1085.7 667.25,1090.5 668.50,1086.6 669.75,1090.7 671.00,1085.0 672.25,1085.6 673.50,1091.5 674.75,1088.9 676.00,1090.2 677.25,1085.9 678.50,1090.8 679.75,1085.8 681.00,1091.3 682.25,1085.8 683.50,1090.7 684.75,1087.6 686.00,1094.2 687.25,1091.8 688.50,1085.8 689.75,1090.1 691.00,1086.0 692.25,1090.2 693.50,1087.1 694.75,1086.4 696.00,1092.5 697.25,1087.4 698.50,1089.9 699.75,1091.4 701.00,1090.1 702.25,1086.3 704.00,1089.0 704.75,1084.8 706.50,1078.8 707.25,1080.2 709.00,1087.7 709.75,1090.8 711.00,1086.2 712.25,1091.0 713.50,1086.4 714.75,1085.8 716.00,1089.6 717.25,1087.3 718.50,1091.6 719.75,1087.2 721.00,1093.5 722.25,1085.5 723.50,1089.2 724.75,1085.3 726.00,1090.6 727.25,1086.6 728.50,1090.7 729.75,1085.4 731.00,1090.5 732.25,1088.3 733.50,1089.2 734.75,1087.0 736.00,1090.2 737.25,1090.6 738.50,1086.1 739.75,1091.4 741.00,1086.3 742.25,1089.7 743.50,1085.5 744.75,1086.7 746.00,1084.7 747.25,1090.8 748.50,1092.2 749.75,1089.5 751.00,1087.1 752.25,1093.8 753.50,1087.3 754.75,1089.6 756.00,1084.6 757.25,1092.0 758.50,1085.6 759.75,1090.2 761.00,1085.4 762.25,1091.6 763.50,1086.9 764.75,1090.1 766.00,1085.4 767.25,1091.0 768.50,1086.8 769.75,1091.6 771.00,1086.0 772.25,1090.8 773.50,1086.3 774.75,1087.0 776.00,1092.2 777.25,1086.9 778.50,1091.1 779.75,1087.3 781.00,1091.3 782.25,1086.1 783.50,1091.2 784.75,1087.0 786.00,1089.4 787.25,1085.7 788.50,1091.4 789.75,1086.5 791.00,1091.4 792.25,1087.7 793.50,1091.1 794.75,1087.1 796.00,1085.5 797.25,1090.3 798.50,1084.2 799.75,1090.2 801.00,1085.0 802.25,1089.1 803.50,1084.3 804.75,1090.9 806.00,1085.7 807.25,1085.2 808.50,1090.4 809.75,1086.1 811.00,1091.1 812.25,1086.3 813.50,1090.7 814.75,1085.0 816.00,1090.7 817.25,1087.1 818.50,1091.6 819.75,1089.9 821.00,1085.0 822.25,1091.4 823.50,1086.9 824.75,1090.0 826.00,1085.5 827.25,1085.5 828.50,1090.8 829.75,1087.0 831.00,1090.9 832.25,1087.8 833.50,1090.9 834.75,1086.3 836.00,1091.6 837.25,1086.9 838.50,1088.9 839.75,1085.1 841.00,1086.4 842.25,1090.4 843.50,1091.7 844.75,1087.9 846.00,1090.0 847.25,1085.6 848.50,1092.3 849.75,1085.2 851.00,1090.6 852.25,1086.6 853.50,1091.4 854.75,1085.7 856.00,1091.8 857.25,1085.7 858.50,1089.3 859.75,1085.6 861.00,1091.4 862.25,1089.8 863.50,1091.8 864.75,1085.1 866.00,1087.0 867.25,1090.0 868.50,1085.7 869.75,1093.3 871.00,1086.3 872.25,1090.1 873.50,1086.9 874.75,1090.6 876.00,1085.5 877.25,1090.1 878.50,1084.7 879.75,1091.1 881.00,1087.0 882.25,1090.8 883.50,1085.6 884.75,1089.7 886.00,1085.6 887.25,1091.9 888.50,1086.4 889.75,1091.8 891.00,1085.8 892.25,1088.8 893.50,1087.8 894.75,1090.5 896.00,1086.4 897.25,1091.9 898.50,1087.0 899.75,1090.3 901.00,1087.2 902.25,1090.0 903.50,1085.8 904.75,1090.3 906.00,1083.6 907.25,1089.9 908.50,1086.2 909.75,1091.3 911.00,1085.7 912.25,1090.7 913.50,1087.0 914.75,1091.0 916.00,1085.2 917.25,1090.9 918.50,1086.4 919.75,1091.0 921.00,1087.3 922.25,1085.9 923.50,1090.7 924.75,1086.7 926.00,1091.3 927.25,1089.5 928.50,1086.4 929.75,1090.5 931.00,1085.5 932.25,1086.8 933.50,1091.6 934.75,1089.4 936.00,1086.1 937.25,1090.9 938.50,1085.3 939.75,1091.8 941.00,1088.0 942.25,1086.5 943.50,1091.9 944.75,1086.5 946.00,1090.8 947.25,1085.6 948.50,1089.3 949.75,1086.4 951.00,1091.3 952.25,1090.6 953.50,1087.2 954.75,1089.7 956.00,1086.8 957.25,1091.9 958.50,1087.1 959.75,1091.0 961.00,1086.5 962.25,1090.5 963.50,1085.6 964.75,1090.2 966.00,1090.5 967.25,1085.2 968.50,1091.2 969.75,1085.3 971.00,1092.1 972.25,1091.7 973.50,1086.1 974.75,1086.0 976.00,1093.5 977.25,1091.9 978.50,1085.5 979.75,1092.4" fill="none" stroke="#000" stroke-width="0.95" stroke-linejoin="miter" stroke-miterlimit="2"/>
<polyline points="458.50,1086.3 459.75,1091.3 461.00,1085.4 462.25,1088.1 463.50,1090.0 464.75,1085.4 466.00,1090.9 467.25,1087.3 468.50,1092.3 469.75,1087.4 471.00,1089.8 472.25,1087.3 473.50,1090.7 474.75,1085.5 476.00,1090.5 477.25,1085.1 478.50,1085.9 479.75,1090.4 481.00,1084.7 482.25,1091.0 483.50,1091.8 484.75,1087.0 486.00,1091.1 487.25,1086.5 488.50,1089.8 489.75,1086.4 491.00,1090.7 492.25,1085.0 493.50,1091.9 494.75,1086.6 496.00,1090.1 497.25,1085.2 498.50,1091.0 499.75,1086.1 501.00,1085.1 502.25,1090.4 503.50,1083.8 504.75,1090.3 506.00,1086.4 507.25,1090.7 508.50,1090.1 509.75,1086.2 511.00,1090.9 512.25,1086.0 513.50,1092.5 514.75,1091.4 516.00,1086.9 517.25,1090.7 518.50,1084.9 519.75,1091.0 521.00,1084.9 522.25,1090.1 523.50,1085.4 524.75,1090.4 526.00,1085.4 527.25,1086.6 528.50,1090.1 529.75,1086.5 531.00,1090.4 532.25,1086.3 533.50,1084.7 534.75,1091.9 536.00,1086.0 537.25,1091.3 538.50,1086.6 539.75,1090.2 541.00,1091.4 542.25,1086.5 543.50,1091.7 544.75,1082.7 546.00,1087.0 547.25,1090.6 548.50,1086.0 549.75,1092.2 551.00,1086.0 552.25,1089.9 553.50,1086.7 554.75,1086.3 556.00,1090.4 557.25,1090.7 558.50,1086.5 559.75,1085.2 561.00,1091.5 562.25,1086.5 563.50,1091.0 564.75,1086.8 566.00,1092.3 567.25,1090.5 568.50,1086.5 569.75,1090.7 571.00,1086.8 572.25,1090.1 573.50,1085.8 574.75,1090.8 576.00,1084.9 577.25,1090.4 578.50,1086.4 579.75,1091.5 581.00,1092.7 582.25,1086.5 583.50,1092.0 584.75,1086.3 586.00,1090.6 587.25,1086.3 588.50,1090.6 589.75,1086.7 591.00,1090.8 592.25,1086.0 593.50,1086.7 594.75,1092.0 596.00,1087.2 597.25,1091.1 598.50,1086.8 599.75,1090.1 601.00,1085.7 602.25,1091.5 603.50,1089.6 604.75,1087.1 606.00,1092.2 607.25,1086.4 608.50,1089.9 609.75,1086.6 611.00,1090.0 612.25,1086.6 613.50,1090.5 614.75,1091.9 616.00,1086.0 617.25,1089.5 618.50,1091.4 619.75,1085.3 621.00,1090.2 622.25,1084.7 623.50,1091.1 624.75,1086.7 626.00,1091.4 627.25,1086.7 628.50,1091.2 629.75,1086.0 631.00,1091.5 632.25,1086.4 633.50,1090.5 634.75,1086.0 636.00,1091.4 637.25,1084.6 638.50,1092.8 639.75,1086.1 641.00,1092.3 642.25,1085.3 643.50,1092.1 644.75,1086.9 646.00,1085.5 647.25,1090.8 648.50,1086.6 649.75,1092.5 651.00,1085.8 652.25,1091.8 653.50,1086.8 654.75,1091.5 656.00,1086.4 657.25,1090.8 658.50,1085.7 659.75,1089.7 661.00,1088.0 662.25,1092.2 663.50,1084.9 664.75,1091.7 666.00,1087.7 667.25,1091.9 668.50,1085.9 669.75,1090.5 671.00,1086.3 672.25,1085.7 673.50,1090.1 674.75,1086.7 676.00,1089.3 677.25,1086.3 678.50,1089.5 679.75,1087.2 681.00,1091.5 682.25,1086.5 683.50,1091.1 684.75,1086.0 686.00,1091.2 687.00,1087.8 688.50,1083.7 689.90,1077.8 691.00,1082.1 692.00,1088.8 693.50,1086.2 694.75,1091.5 696.00,1090.9 697.25,1087.2 698.50,1092.1 699.75,1088.2 701.00,1087.1 702.25,1091.5 703.50,1085.0 704.75,1086.5 706.00,1090.2 707.25,1091.3 708.50,1090.1 709.75,1085.3 711.00,1093.8 712.25,1092.6 713.50,1086.9 714.75,1091.6 716.00,1086.0 717.25,1090.7 718.50,1087.4 719.75,1086.8 721.00,1090.0 722.25,1084.8 723.50,1087.0 724.75,1085.6 726.00,1090.0 727.25,1086.2 728.50,1090.0 729.75,1090.8 731.00,1089.6 732.25,1085.8 733.50,1091.4 734.75,1091.8 736.00,1086.4 737.25,1091.3 738.50,1089.4 739.75,1086.2 741.00,1090.9 742.25,1090.7 743.50,1086.1 744.75,1089.7 746.00,1090.8 747.25,1086.7 748.50,1087.5 749.75,1087.0 751.00,1089.1 752.25,1085.1 753.50,1089.1 754.75,1083.5 756.00,1091.9 757.25,1084.9 758.50,1090.6 759.75,1085.9 761.00,1093.2 762.25,1085.5 763.50,1091.0 764.75,1090.4 766.00,1087.2 767.25,1090.7 768.50,1091.0 769.75,1085.7 771.00,1086.6 772.25,1092.2 773.50,1085.6 774.75,1091.5 776.00,1084.2 777.25,1091.7 778.50,1085.7 779.75,1090.4 781.00,1085.8 782.25,1091.6 783.50,1085.5 784.75,1091.5 786.00,1087.2 787.25,1091.3 788.50,1090.4 789.75,1085.9 791.00,1091.4 792.25,1085.0 793.50,1090.8 794.75,1089.6 796.00,1087.6 797.25,1091.0 798.50,1085.6 799.75,1092.2 801.00,1085.9 802.25,1091.4 803.50,1085.2 804.75,1090.6 806.00,1087.0 807.25,1091.7 808.50,1089.4 809.75,1084.8 811.00,1091.0 812.25,1086.8 813.50,1090.7 814.75,1087.7 816.00,1090.4 817.25,1089.9 818.50,1091.3 819.75,1085.5 821.00,1091.1 822.25,1085.3 823.50,1090.7 824.75,1085.1 826.00,1085.2 827.25,1091.1 828.50,1086.9 829.75,1091.6 831.00,1090.5 832.25,1083.7 833.50,1091.9 834.75,1087.5 836.00,1091.5 837.25,1086.5 838.50,1089.7 839.75,1086.2 841.00,1089.6 842.25,1086.9 843.50,1090.3 844.75,1087.8 846.00,1091.4 847.25,1091.1 848.50,1086.5 849.75,1090.3 851.00,1087.0 852.25,1086.1 853.50,1091.4 854.75,1090.1 856.00,1087.0 857.25,1086.4 858.50,1090.8 859.75,1090.7 861.00,1093.0 862.25,1086.5 863.50,1087.7 864.75,1093.6 866.00,1085.5 867.25,1091.7 868.50,1085.4 869.75,1090.4 871.00,1087.2 872.25,1091.4 873.50,1086.9 874.75,1084.8 876.00,1089.2 877.25,1083.5 878.50,1089.6 879.75,1086.6 881.00,1086.7 882.25,1090.2 883.50,1086.2 884.75,1084.7 886.00,1090.3 887.25,1087.0 888.50,1091.6 889.75,1089.8 891.00,1087.7 892.25,1091.0 893.50,1085.0 894.75,1089.5 896.00,1086.4 897.25,1087.4 898.50,1090.1 899.75,1086.8 901.00,1092.2 902.25,1085.3 903.50,1091.5 904.75,1086.7 906.00,1090.0 907.25,1083.9 908.50,1088.9 909.75,1087.0 911.00,1084.2 912.25,1091.2 913.50,1083.3 914.75,1085.2 916.00,1090.9 917.25,1087.4 918.50,1089.4 919.75,1090.2 921.00,1086.8 922.25,1090.9 923.50,1086.5 924.75,1090.7 926.00,1084.7 927.25,1089.9 928.50,1086.6 929.75,1090.4 931.00,1091.4 932.25,1084.4 933.50,1091.5 934.75,1085.9 936.00,1091.1 937.25,1084.6 938.50,1090.7 939.75,1086.9 941.00,1089.5 942.25,1085.4 943.50,1091.0 944.75,1088.1 946.00,1091.6 947.25,1092.8 948.50,1091.2 949.75,1086.9 951.00,1089.9 952.25,1086.5 953.50,1086.7 954.75,1092.1 956.00,1090.6 957.25,1089.3 958.50,1082.9 959.75,1090.3 961.00,1090.2 962.25,1085.1 963.50,1091.1 964.75,1086.9 966.00,1091.5 967.25,1089.6 968.50,1085.9 969.75,1091.3 971.00,1086.9 972.25,1091.3 973.50,1085.4 974.75,1093.0 976.00,1092.0 977.25,1085.9 978.50,1090.4 979.75,1085.7" fill="none" stroke="#00ff00" stroke-width="0.95" stroke-linejoin="miter" stroke-miterlimit="2"/>
<polyline points="458.50,1086.0 459.75,1089.9 461.00,1086.6 462.25,1092.3 463.50,1085.1 464.75,1090.5 466.00,1085.0 467.25,1091.5 468.50,1083.6 469.75,1092.4 471.00,1086.1 472.25,1092.1 473.50,1087.3 474.75,1090.5 476.00,1086.5 477.25,1090.0 478.50,1084.8 479.75,1091.6 481.00,1092.8 482.25,1086.8 483.50,1089.9 484.75,1085.4 486.00,1091.0 487.25,1085.4 488.50,1091.2 489.75,1087.1 491.00,1091.7 492.25,1086.5 493.50,1090.5 494.75,1084.8 496.00,1089.4 497.25,1085.7 498.50,1091.5 499.75,1086.7 501.00,1094.1 502.25,1086.8 503.50,1092.6 504.75,1085.1 506.00,1090.2 507.25,1086.7 508.50,1091.8 509.75,1087.0 511.00,1091.6 512.25,1087.5 513.50,1091.1 514.75,1086.6 516.00,1091.6 517.25,1085.4 518.50,1092.1 519.75,1085.4 521.00,1090.4 522.25,1084.9 523.50,1092.5 524.75,1086.6 526.00,1091.1 527.25,1085.5 528.50,1090.5 529.75,1085.8 531.00,1086.4 532.25,1086.3 533.50,1092.1 534.75,1094.1 536.00,1087.0 537.25,1086.0 538.50,1090.0 539.75,1085.7 541.00,1086.6 542.25,1090.6 543.50,1083.9 544.75,1090.3 546.00,1084.9 547.25,1090.7 548.50,1086.5 549.75,1092.1 551.00,1084.8 552.25,1090.2 553.50,1085.8 554.75,1084.9 556.00,1090.8 557.25,1086.8 558.50,1090.7 559.75,1086.1 561.00,1089.8 562.25,1085.8 563.50,1090.5 564.75,1091.3 566.00,1086.6 567.25,1084.6 568.50,1089.5 569.75,1086.9 571.00,1093.0 572.25,1084.6 573.50,1091.8 574.75,1086.8 576.00,1091.8 577.25,1085.9 578.50,1092.3 579.75,1085.3 581.00,1089.8 582.25,1086.6 583.50,1089.9 584.75,1084.5 586.00,1091.6 587.25,1085.6 588.50,1091.0 589.75,1091.1 591.00,1086.8 592.25,1091.0 593.50,1085.9 594.75,1085.2 596.00,1091.1 597.25,1086.0 598.50,1090.9 599.75,1090.3 601.00,1086.8 602.25,1090.0 603.50,1087.0 604.75,1086.1 606.00,1090.0 607.25,1086.1 608.50,1093.2 609.75,1088.2 611.00,1090.3 612.25,1086.1 613.50,1092.3 614.75,1085.5 616.00,1091.1 617.25,1086.0 618.50,1091.9 619.75,1092.2 621.00,1085.2 622.25,1091.6 623.50,1087.5 624.75,1091.0 626.00,1085.0 627.25,1090.7 628.50,1085.3 629.75,1091.8 631.00,1087.5 632.25,1091.4 633.50,1086.2 634.75,1086.4 636.00,1090.6 637.25,1086.3 638.50,1087.2 639.75,1091.1 641.00,1085.3 642.25,1091.3 643.50,1086.4 644.75,1092.2 646.00,1084.7 647.25,1091.6 648.50,1085.5 649.75,1091.0 651.00,1090.7 652.25,1089.5 653.50,1092.2 654.75,1091.2 656.00,1085.5 657.00,1088.6 658.50,1054.3 659.10,1041.2 659.75,1057.0 661.00,1088.4 662.25,1090.8 663.50,1086.7 664.75,1090.6 666.00,1085.5 667.25,1086.2 668.50,1092.0 669.75,1086.4 671.00,1091.8 672.25,1087.5 673.50,1090.2 674.75,1085.7 676.00,1091.9 677.25,1086.3 678.50,1085.4 679.75,1087.6 681.00,1091.7 682.25,1085.2 683.50,1092.0 684.75,1086.7 686.00,1087.3 687.25,1091.5 688.50,1087.2 689.75,1086.1 691.00,1090.8 692.25,1085.6 693.50,1090.7 694.75,1092.6 696.00,1086.9 697.25,1086.8 698.50,1090.5 699.75,1085.3 701.00,1090.7 702.25,1085.8 703.50,1092.3 704.75,1087.0 706.00,1092.1 707.25,1085.7 708.50,1086.2 709.75,1091.7 711.00,1085.5 712.25,1091.7 713.50,1086.6 714.75,1090.5 716.00,1085.0 717.25,1091.0 718.50,1091.1 719.75,1086.0 721.00,1091.2 722.25,1086.8 723.50,1090.2 724.75,1091.3 726.00,1087.2 727.25,1092.4 728.50,1086.0 729.75,1089.8 731.00,1084.8 732.25,1090.0 733.50,1086.1 734.75,1086.6 736.00,1089.3 737.25,1087.4 738.50,1089.8 739.75,1086.0 741.00,1092.2 742.25,1086.7 743.50,1091.7 744.75,1091.1 746.00,1084.3 747.25,1090.8 748.50,1086.5 749.75,1091.4 751.00,1085.3 752.25,1089.5 753.50,1087.2 754.75,1085.2 756.00,1087.3 757.25,1091.6 758.00,1088.2 760.00,1069.2 761.00,1078.2 762.00,1088.6 763.50,1086.6 764.75,1091.8 766.00,1092.5 767.25,1086.3 768.50,1094.0 769.75,1086.5 771.00,1083.9 772.25,1089.9 773.50,1084.8 774.75,1090.9 776.00,1086.1 777.25,1086.9 778.50,1090.3 779.75,1087.8 781.00,1090.1 782.25,1086.3 783.50,1090.3 784.75,1085.3 786.00,1091.8 787.25,1092.3 788.50,1085.6 789.75,1090.1 791.00,1086.1 792.25,1089.6 793.50,1091.7 794.75,1085.9 796.00,1091.1 797.25,1087.5 798.50,1090.3 799.75,1084.8 801.00,1092.2 802.25,1086.9 803.50,1089.9 804.75,1085.2 806.00,1090.8 807.25,1086.5 808.50,1090.6 809.75,1093.0 811.00,1084.7 812.25,1090.1 813.50,1086.5 814.75,1090.1 816.00,1086.7 817.25,1090.9 818.50,1087.1 819.75,1091.9 821.00,1088.3 822.25,1091.9 823.50,1086.3 824.75,1091.3 826.00,1085.6 827.25,1090.6 828.50,1085.6 829.75,1091.8 831.00,1085.5 832.25,1089.6 833.50,1085.5 834.75,1091.5 836.00,1087.2 837.25,1089.2 838.50,1084.9 839.75,1091.3 841.00,1092.3 842.25,1085.2 843.50,1093.6 844.75,1086.9 846.00,1091.6 847.25,1084.7 848.50,1090.9 849.75,1085.7 851.00,1090.8 852.25,1086.2 853.50,1086.0 854.75,1091.0 856.00,1087.5 857.25,1089.9 858.50,1085.1 859.75,1090.0 861.00,1086.7 862.25,1090.9 863.50,1085.1 864.75,1090.4 866.00,1086.3 867.25,1089.3 868.50,1082.9 869.75,1091.8 871.00,1084.1 872.25,1090.6 873.50,1092.0 874.75,1086.2 876.00,1091.0 877.25,1087.1 878.50,1092.7 879.75,1085.0 881.00,1091.2 882.25,1086.7 883.50,1091.2 884.75,1083.3 886.00,1091.0 887.25,1090.0 888.50,1084.1 889.75,1094.0 891.00,1085.5 892.25,1091.3 893.50,1091.0 894.75,1085.4 896.00,1091.6 897.25,1087.6 898.50,1090.6 899.75,1086.7 901.00,1086.3 902.25,1085.1 903.50,1090.4 904.75,1085.6 906.00,1091.9 907.25,1086.7 908.50,1089.5 909.75,1082.6 911.00,1092.8 912.25,1084.8 913.50,1089.7 914.75,1090.8 916.00,1086.7 917.25,1091.1 918.50,1089.3 919.75,1085.9 921.00,1092.6 922.25,1085.0 923.50,1092.5 924.75,1084.2 926.00,1086.2 927.25,1091.6 928.50,1085.5 929.75,1090.8 931.00,1085.9 932.25,1092.1 933.50,1085.3 934.75,1089.7 936.00,1085.9 937.25,1087.1 938.50,1094.0 939.75,1084.8 941.00,1090.4 942.25,1085.2 943.50,1092.2 944.75,1085.1 946.00,1093.1 947.25,1086.6 948.50,1086.7 949.75,1092.0 951.00,1085.3 952.25,1090.4 953.50,1087.4 954.75,1093.5 956.00,1091.0 957.25,1085.6 958.50,1090.2 959.75,1090.7 961.00,1087.0 962.25,1087.3 963.50,1092.2 964.75,1086.4 966.00,1090.3 967.25,1087.6 968.50,1091.8 969.75,1084.1 971.00,1090.4 972.25,1087.4 973.50,1089.8 974.75,1086.9 976.00,1090.2 977.25,1086.5 978.50,1090.1 979.75,1091.2" fill="none" stroke="#00ffff" stroke-width="0.95" stroke-linejoin="miter" stroke-miterlimit="2"/>
<line x1="615.6" y1="414.8" x2="647.8" y2="414.8" stroke="#0000ff" stroke-width="5.9"/>
<line x1="615.6" y1="445.4" x2="647.8" y2="445.4" stroke="#ff0000" stroke-width="5.9"/>
<line x1="1426.1" y1="343.2" x2="1458.1" y2="343.2" stroke="#ff0000" stroke-width="5.9"/>
<line x1="1426.1" y1="368.7" x2="1458.1" y2="368.7" stroke="#0000ff" stroke-width="5.9"/>
<line x1="1426.1" y1="394.5" x2="1458.1" y2="394.5" stroke="#000" stroke-width="5.9"/>
<line x1="1426.1" y1="421.1" x2="1458.1" y2="421.1" stroke="#00ff00" stroke-width="5.9"/>
<line x1="1426.1" y1="447.8" x2="1458.1" y2="447.8" stroke="#00ffff" stroke-width="5.9"/>
<line x1="998.3" y1="983.6" x2="1030.4" y2="983.6" stroke="#ff0000" stroke-width="5.9"/>
<line x1="998.3" y1="1010.3" x2="1030.4" y2="1010.3" stroke="#0000ff" stroke-width="5.9"/>
<line x1="998.3" y1="1035.0" x2="1030.4" y2="1035.0" stroke="#000" stroke-width="5.9"/>
<line x1="998.3" y1="1061.8" x2="1030.4" y2="1061.8" stroke="#00ff00" stroke-width="5.9"/>
<line x1="999.6" y1="1088.4" x2="1031.8" y2="1088.4" stroke="#00ffff" stroke-width="5.9"/>
<g>
<text x="23.64" y="56.00" font-size="47.58" textLength="33.19" lengthAdjust="spacingAndGlyphs" font-family='"Liberation Serif","Times New Roman",serif'>A</text>
<text x="92.99" y="56.72" font-size="47.58" textLength="79.34" lengthAdjust="spacingAndGlyphs" font-family='"Liberation Serif","Times New Roman",serif'>ICA</text>
<text x="826.91" y="61.88" font-size="47.91" textLength="31.31" lengthAdjust="spacingAndGlyphs" font-family='"Liberation Serif","Times New Roman",serif'>B</text>
<text x="894.62" y="61.53" font-size="46.84" textLength="80.21" lengthAdjust="spacingAndGlyphs" font-family='"Liberation Serif","Times New Roman",serif'>PLS</text>
<text x="405.87" y="700.83" font-size="47.14" textLength="32.16" lengthAdjust="spacingAndGlyphs" font-family='"Liberation Serif","Times New Roman",serif'>C</text>
<text x="473.39" y="700.53" font-size="46.69" textLength="140.63" lengthAdjust="spacingAndGlyphs" font-family='"Liberation Serif","Times New Roman",serif'>IC-PLS</text>
<text x="5.12" y="155.61" font-size="45.62" textLength="51.76" lengthAdjust="spacingAndGlyphs" font-family='"Liberation Serif","Times New Roman",serif'>(a)</text>
<text x="0.83" y="306.08" font-size="45.29" textLength="53.98" lengthAdjust="spacingAndGlyphs" font-family='"Liberation Serif","Times New Roman",serif'>(b)</text>
<text x="-0.98" y="456.81" font-size="45.62" textLength="51.76" lengthAdjust="spacingAndGlyphs" font-family='"Liberation Serif","Times New Roman",serif'>(c)</text>
<text x="820.73" y="161.61" font-size="45.62" textLength="51.43" lengthAdjust="spacingAndGlyphs" font-family='"Liberation Serif","Times New Roman",serif'>(a)</text>
<text x="820.73" y="307.31" font-size="45.62" textLength="53.98" lengthAdjust="spacingAndGlyphs" font-family='"Liberation Serif","Times New Roman",serif'>(b)</text>
<text x="820.74" y="453.11" font-size="45.62" textLength="51.11" lengthAdjust="spacingAndGlyphs" font-family='"Liberation Serif","Times New Roman",serif'>(c)</text>
<text x="400.22" y="787.48" font-size="45.29" textLength="51.65" lengthAdjust="spacingAndGlyphs" font-family='"Liberation Serif","Times New Roman",serif'>(a)</text>
<text x="400.24" y="942.68" font-size="45.29" textLength="53.77" lengthAdjust="spacingAndGlyphs" font-family='"Liberation Serif","Times New Roman",serif'>(b)</text>
<text x="400.24" y="1086.25" font-size="45.40" textLength="51.11" lengthAdjust="spacingAndGlyphs" font-family='"Liberation Serif","Times New Roman",serif'>(c)</text>
<text x="194.25" y="591.30" font-size="36.74" textLength="253.32" lengthAdjust="spacingAndGlyphs" font-family='"Liberation Serif","Times New Roman",serif'>Raman shift (cm</text>
<text x="447.21" y="581.20" font-size="25.45" textLength="19.83" lengthAdjust="spacingAndGlyphs" font-family='"Liberation Serif","Times New Roman",serif'>-1</text>
<text x="467.71" y="591.32" font-size="36.14" textLength="13.19" lengthAdjust="spacingAndGlyphs" font-family='"Liberation Serif","Times New Roman",serif'>)</text>
<text x="1031.65" y="588.90" font-size="36.74" textLength="253.32" lengthAdjust="spacingAndGlyphs" font-family='"Liberation Serif","Times New Roman",serif'>Raman shift (cm</text>
<text x="1284.61" y="578.80" font-size="25.45" textLength="19.83" lengthAdjust="spacingAndGlyphs" font-family='"Liberation Serif","Times New Roman",serif'>-1</text>
<text x="1305.11" y="588.92" font-size="36.14" textLength="13.19" lengthAdjust="spacingAndGlyphs" font-family='"Liberation Serif","Times New Roman",serif'>)</text>
<text x="584.25" y="1226.90" font-size="36.74" textLength="253.32" lengthAdjust="spacingAndGlyphs" font-family='"Liberation Serif","Times New Roman",serif'>Raman shift (cm</text>
<text x="837.21" y="1216.80" font-size="25.45" textLength="19.83" lengthAdjust="spacingAndGlyphs" font-family='"Liberation Serif","Times New Roman",serif'>-1</text>
<text x="857.71" y="1226.92" font-size="36.14" textLength="13.19" lengthAdjust="spacingAndGlyphs" font-family='"Liberation Serif","Times New Roman",serif'>)</text>
<text x="899.40" y="412.00" font-size="39.69" textLength="26.78" lengthAdjust="spacingAndGlyphs" font-family='"Liberation Serif","Times New Roman",serif'>R</text>
<text x="925.52" y="400.90" font-size="25.51" textLength="12.67" lengthAdjust="spacingAndGlyphs" font-family='"Liberation Serif","Times New Roman",serif'>2</text>
<text x="946.26" y="412.00" font-size="38.80" textLength="80.05" lengthAdjust="spacingAndGlyphs" font-family='"Liberation Serif","Times New Roman",serif'>&gt; 0.9</text>
<text x="479.90" y="1057.60" font-size="39.69" textLength="26.78" lengthAdjust="spacingAndGlyphs" font-family='"Liberation Serif","Times New Roman",serif'>R</text>
<text x="506.02" y="1046.50" font-size="25.51" textLength="12.67" lengthAdjust="spacingAndGlyphs" font-family='"Liberation Serif","Times New Roman",serif'>2</text>
<text x="526.76" y="1057.60" font-size="38.80" textLength="80.05" lengthAdjust="spacingAndGlyphs" font-family='"Liberation Serif","Times New Roman",serif'>&gt; 0.9</text>
<text x="652.90" y="422.40" font-size="24.91" textLength="135.17" lengthAdjust="spacingAndGlyphs" font-family='"Liberation Serif","Times New Roman",serif' stroke="#000" stroke-width="0.35">Component 1</text>
<text x="652.88" y="451.40" font-size="23.25" textLength="137.49" lengthAdjust="spacingAndGlyphs" font-family='"Liberation Serif","Times New Roman",serif' stroke="#000" stroke-width="0.35">Component 2</text>
<text x="1462.60" y="347.20" font-size="19.62" textLength="108.99" lengthAdjust="spacingAndGlyphs" font-family='"Liberation Serif","Times New Roman",serif' stroke="#000" stroke-width="0.35">Component 1</text>
<text x="1462.58" y="373.40" font-size="18.72" textLength="110.42" lengthAdjust="spacingAndGlyphs" font-family='"Liberation Serif","Times New Roman",serif' stroke="#000" stroke-width="0.35">Component 2</text>
<text x="1462.59" y="399.70" font-size="19.47" textLength="109.50" lengthAdjust="spacingAndGlyphs" font-family='"Liberation Serif","Times New Roman",serif' stroke="#000" stroke-width="0.35">Component 3</text>
<text x="1462.59" y="426.00" font-size="18.57" textLength="109.59" lengthAdjust="spacingAndGlyphs" font-family='"Liberation Serif","Times New Roman",serif' stroke="#000" stroke-width="0.35">Component 4</text>
<text x="1462.59" y="451.80" font-size="18.57" textLength="109.50" lengthAdjust="spacingAndGlyphs" font-family='"Liberation Serif","Times New Roman",serif' stroke="#000" stroke-width="0.35">Component 5</text>
<text x="1035.89" y="988.10" font-size="20.23" textLength="109.40" lengthAdjust="spacingAndGlyphs" font-family='"Liberation Serif","Times New Roman",serif' stroke="#000" stroke-width="0.35">Component 1</text>
<text x="1035.88" y="1014.80" font-size="19.92" textLength="110.52" lengthAdjust="spacingAndGlyphs" font-family='"Liberation Serif","Times New Roman",serif' stroke="#000" stroke-width="0.35">Component 2</text>
<text x="1035.89" y="1040.20" font-size="19.32" textLength="109.60" lengthAdjust="spacingAndGlyphs" font-family='"Liberation Serif","Times New Roman",serif' stroke="#000" stroke-width="0.35">Component 3</text>
<text x="1035.89" y="1067.10" font-size="19.47" textLength="109.69" lengthAdjust="spacingAndGlyphs" font-family='"Liberation Serif","Times New Roman",serif' stroke="#000" stroke-width="0.35">Component 4</text>
<text x="1035.89" y="1092.90" font-size="19.47" textLength="109.60" lengthAdjust="spacingAndGlyphs" font-family='"Liberation Serif","Times New Roman",serif' stroke="#000" stroke-width="0.35">Component 5</text>
<text x="60.42" y="547.58" font-size="21.63" textLength="35.90" lengthAdjust="spacingAndGlyphs" font-family='"Liberation Sans",Arial,sans-serif' stroke="#000" stroke-width="0.3">600</text>
<text x="148.06" y="547.58" font-size="21.63" textLength="35.74" lengthAdjust="spacingAndGlyphs" font-family='"Liberation Sans",Arial,sans-serif' stroke="#000" stroke-width="0.3">800</text>
<text x="230.14" y="547.58" font-size="21.63" textLength="45.86" lengthAdjust="spacingAndGlyphs" font-family='"Liberation Sans",Arial,sans-serif' stroke="#000" stroke-width="0.3">1000</text>
<text x="317.60" y="547.58" font-size="21.63" textLength="45.86" lengthAdjust="spacingAndGlyphs" font-family='"Liberation Sans",Arial,sans-serif' stroke="#000" stroke-width="0.3">1200</text>
<text x="405.07" y="547.58" font-size="21.63" textLength="45.86" lengthAdjust="spacingAndGlyphs" font-family='"Liberation Sans",Arial,sans-serif' stroke="#000" stroke-width="0.3">1400</text>
<text x="492.54" y="547.58" font-size="21.63" textLength="45.86" lengthAdjust="spacingAndGlyphs" font-family='"Liberation Sans",Arial,sans-serif' stroke="#000" stroke-width="0.3">1600</text>
<text x="580.00" y="547.58" font-size="21.63" textLength="45.86" lengthAdjust="spacingAndGlyphs" font-family='"Liberation Sans",Arial,sans-serif' stroke="#000" stroke-width="0.3">1800</text>
<text x="862.42" y="545.58" font-size="22.05" textLength="35.90" lengthAdjust="spacingAndGlyphs" font-family='"Liberation Sans",Arial,sans-serif' stroke="#000" stroke-width="0.3">600</text>
<text x="949.87" y="545.58" font-size="22.05" textLength="35.74" lengthAdjust="spacingAndGlyphs" font-family='"Liberation Sans",Arial,sans-serif' stroke="#000" stroke-width="0.3">800</text>
<text x="1031.77" y="545.58" font-size="22.05" textLength="45.86" lengthAdjust="spacingAndGlyphs" font-family='"Liberation Sans",Arial,sans-serif' stroke="#000" stroke-width="0.3">1000</text>
<text x="1119.05" y="545.58" font-size="22.05" textLength="45.86" lengthAdjust="spacingAndGlyphs" font-family='"Liberation Sans",Arial,sans-serif' stroke="#000" stroke-width="0.3">1200</text>
<text x="1206.34" y="545.58" font-size="22.05" textLength="45.86" lengthAdjust="spacingAndGlyphs" font-family='"Liberation Sans",Arial,sans-serif' stroke="#000" stroke-width="0.3">1400</text>
<text x="1293.62" y="545.58" font-size="22.05" textLength="45.86" lengthAdjust="spacingAndGlyphs" font-family='"Liberation Sans",Arial,sans-serif' stroke="#000" stroke-width="0.3">1600</text>
<text x="1380.90" y="545.58" font-size="22.05" textLength="45.86" lengthAdjust="spacingAndGlyphs" font-family='"Liberation Sans",Arial,sans-serif' stroke="#000" stroke-width="0.3">1800</text>
<text x="439.62" y="1186.49" font-size="21.48" textLength="35.90" lengthAdjust="spacingAndGlyphs" font-family='"Liberation Sans",Arial,sans-serif' stroke="#000" stroke-width="0.3">600</text>
<text x="527.07" y="1186.49" font-size="21.48" textLength="35.74" lengthAdjust="spacingAndGlyphs" font-family='"Liberation Sans",Arial,sans-serif' stroke="#000" stroke-width="0.3">800</text>
<text x="608.97" y="1186.49" font-size="21.48" textLength="45.86" lengthAdjust="spacingAndGlyphs" font-family='"Liberation Sans",Arial,sans-serif' stroke="#000" stroke-width="0.3">1000</text>
<text x="696.25" y="1186.49" font-size="21.48" textLength="45.86" lengthAdjust="spacingAndGlyphs" font-family='"Liberation Sans",Arial,sans-serif' stroke="#000" stroke-width="0.3">1200</text>
<text x="783.54" y="1186.49" font-size="21.48" textLength="45.86" lengthAdjust="spacingAndGlyphs" font-family='"Liberation Sans",Arial,sans-serif' stroke="#000" stroke-width="0.3">1400</text>
<text x="870.82" y="1186.49" font-size="21.48" textLength="45.86" lengthAdjust="spacingAndGlyphs" font-family='"Liberation Sans",Arial,sans-serif' stroke="#000" stroke-width="0.3">1600</text>
<text x="958.10" y="1186.49" font-size="21.48" textLength="45.86" lengthAdjust="spacingAndGlyphs" font-family='"Liberation Sans",Arial,sans-serif' stroke="#000" stroke-width="0.3">1800</text>
</g>
</svg>
</body></html>
